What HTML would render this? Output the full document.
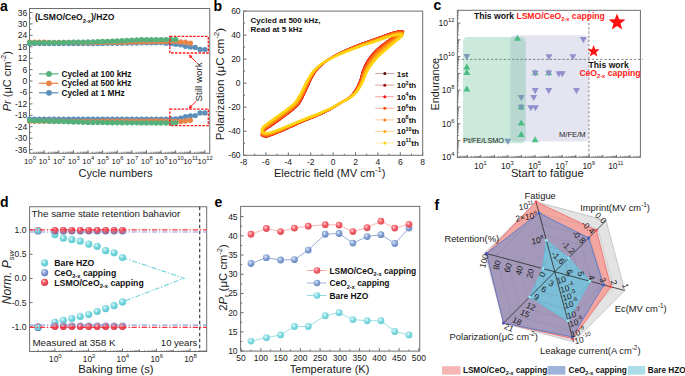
<!DOCTYPE html>
<html><head><meta charset="utf-8"><style>
html,body{margin:0;padding:0;background:#fff;}
svg{display:block;font-family:"Liberation Sans", sans-serif;}
</style></head><body>
<svg width="685" height="376" viewBox="0 0 685 376">
<defs><radialGradient id="gc" cx="0.38" cy="0.35" r="0.7"><stop offset="0" stop-color="#e6fafb"/><stop offset="0.45" stop-color="#78d8de"/><stop offset="1" stop-color="#58c6cc"/></radialGradient><radialGradient id="gb" cx="0.38" cy="0.35" r="0.7"><stop offset="0" stop-color="#e0e8f8"/><stop offset="0.45" stop-color="#8aa3d8"/><stop offset="1" stop-color="#6079b8"/></radialGradient><radialGradient id="gr" cx="0.38" cy="0.35" r="0.7"><stop offset="0" stop-color="#ffd0d4"/><stop offset="0.45" stop-color="#f0505c"/><stop offset="1" stop-color="#d83c4a"/></radialGradient><radialGradient id="ger" cx="0.38" cy="0.35" r="0.7"><stop offset="0" stop-color="#ffd8dc"/><stop offset="0.45" stop-color="#f5606a"/><stop offset="1" stop-color="#dc4a52"/></radialGradient><radialGradient id="geb" cx="0.38" cy="0.35" r="0.7"><stop offset="0" stop-color="#e6ecf8"/><stop offset="0.45" stop-color="#88a4d6"/><stop offset="1" stop-color="#6a88c0"/></radialGradient><radialGradient id="gec" cx="0.38" cy="0.35" r="0.7"><stop offset="0" stop-color="#eafbfc"/><stop offset="0.45" stop-color="#86dce2"/><stop offset="1" stop-color="#62cad2"/></radialGradient></defs>
<rect width="685" height="376" fill="#fff"/>
<text x="0.00" y="10.80" font-size="14" font-weight="bold" font-style="normal" text-anchor="start" fill="#000">a</text>
<line x1="29.50" y1="149.59" x2="32.50" y2="149.59" stroke="#6e6e6e" stroke-width="1"/>
<text x="27.20" y="152.59" font-size="8.5" font-weight="normal" font-style="normal" text-anchor="end" fill="#1a1a1a">-36</text>
<line x1="29.50" y1="138.16" x2="32.50" y2="138.16" stroke="#6e6e6e" stroke-width="1"/>
<text x="27.20" y="141.16" font-size="8.5" font-weight="normal" font-style="normal" text-anchor="end" fill="#1a1a1a">-30</text>
<line x1="29.50" y1="126.74" x2="32.50" y2="126.74" stroke="#6e6e6e" stroke-width="1"/>
<text x="27.20" y="129.74" font-size="8.5" font-weight="normal" font-style="normal" text-anchor="end" fill="#1a1a1a">-24</text>
<line x1="29.50" y1="115.32" x2="32.50" y2="115.32" stroke="#6e6e6e" stroke-width="1"/>
<text x="27.20" y="118.32" font-size="8.5" font-weight="normal" font-style="normal" text-anchor="end" fill="#1a1a1a">-18</text>
<line x1="29.50" y1="103.89" x2="32.50" y2="103.89" stroke="#6e6e6e" stroke-width="1"/>
<text x="27.20" y="106.89" font-size="8.5" font-weight="normal" font-style="normal" text-anchor="end" fill="#1a1a1a">-12</text>
<line x1="29.50" y1="92.47" x2="32.50" y2="92.47" stroke="#6e6e6e" stroke-width="1"/>
<text x="27.20" y="95.47" font-size="8.5" font-weight="normal" font-style="normal" text-anchor="end" fill="#1a1a1a">-6</text>
<line x1="29.50" y1="81.04" x2="32.50" y2="81.04" stroke="#6e6e6e" stroke-width="1"/>
<text x="27.20" y="84.04" font-size="8.5" font-weight="normal" font-style="normal" text-anchor="end" fill="#1a1a1a">0</text>
<line x1="29.50" y1="69.62" x2="32.50" y2="69.62" stroke="#6e6e6e" stroke-width="1"/>
<text x="27.20" y="72.62" font-size="8.5" font-weight="normal" font-style="normal" text-anchor="end" fill="#1a1a1a">6</text>
<line x1="29.50" y1="58.20" x2="32.50" y2="58.20" stroke="#6e6e6e" stroke-width="1"/>
<text x="27.20" y="61.20" font-size="8.5" font-weight="normal" font-style="normal" text-anchor="end" fill="#1a1a1a">12</text>
<line x1="29.50" y1="46.77" x2="32.50" y2="46.77" stroke="#6e6e6e" stroke-width="1"/>
<text x="27.20" y="49.77" font-size="8.5" font-weight="normal" font-style="normal" text-anchor="end" fill="#1a1a1a">18</text>
<line x1="29.50" y1="35.35" x2="32.50" y2="35.35" stroke="#6e6e6e" stroke-width="1"/>
<text x="27.20" y="38.35" font-size="8.5" font-weight="normal" font-style="normal" text-anchor="end" fill="#1a1a1a">24</text>
<line x1="29.50" y1="23.92" x2="32.50" y2="23.92" stroke="#6e6e6e" stroke-width="1"/>
<text x="27.20" y="26.92" font-size="8.5" font-weight="normal" font-style="normal" text-anchor="end" fill="#1a1a1a">30</text>
<line x1="29.50" y1="12.50" x2="32.50" y2="12.50" stroke="#6e6e6e" stroke-width="1"/>
<text x="27.20" y="15.50" font-size="8.5" font-weight="normal" font-style="normal" text-anchor="end" fill="#1a1a1a">36</text>
<line x1="29.50" y1="143.88" x2="31.10" y2="143.88" stroke="#6e6e6e" stroke-width="1"/>
<line x1="29.50" y1="132.45" x2="31.10" y2="132.45" stroke="#6e6e6e" stroke-width="1"/>
<line x1="29.50" y1="121.03" x2="31.10" y2="121.03" stroke="#6e6e6e" stroke-width="1"/>
<line x1="29.50" y1="109.60" x2="31.10" y2="109.60" stroke="#6e6e6e" stroke-width="1"/>
<line x1="29.50" y1="98.18" x2="31.10" y2="98.18" stroke="#6e6e6e" stroke-width="1"/>
<line x1="29.50" y1="86.76" x2="31.10" y2="86.76" stroke="#6e6e6e" stroke-width="1"/>
<line x1="29.50" y1="75.33" x2="31.10" y2="75.33" stroke="#6e6e6e" stroke-width="1"/>
<line x1="29.50" y1="63.91" x2="31.10" y2="63.91" stroke="#6e6e6e" stroke-width="1"/>
<line x1="29.50" y1="52.48" x2="31.10" y2="52.48" stroke="#6e6e6e" stroke-width="1"/>
<line x1="29.50" y1="41.06" x2="31.10" y2="41.06" stroke="#6e6e6e" stroke-width="1"/>
<line x1="29.50" y1="29.64" x2="31.10" y2="29.64" stroke="#6e6e6e" stroke-width="1"/>
<line x1="29.50" y1="18.21" x2="31.10" y2="18.21" stroke="#6e6e6e" stroke-width="1"/>
<line x1="29.60" y1="153.25" x2="29.60" y2="150.25" stroke="#6e6e6e" stroke-width="1"/>
<text x="29.90" y="164.00" font-size="7.9" text-anchor="middle" fill="#1a1a1a">10<tspan dy="-3.56" font-size="5.85">0</tspan></text>
<line x1="34.00" y1="153.25" x2="34.00" y2="151.65" stroke="#6e6e6e" stroke-width="0.8"/>
<line x1="36.57" y1="153.25" x2="36.57" y2="151.65" stroke="#6e6e6e" stroke-width="0.8"/>
<line x1="38.40" y1="153.25" x2="38.40" y2="151.65" stroke="#6e6e6e" stroke-width="0.8"/>
<line x1="39.81" y1="153.25" x2="39.81" y2="151.65" stroke="#6e6e6e" stroke-width="0.8"/>
<line x1="40.97" y1="153.25" x2="40.97" y2="151.65" stroke="#6e6e6e" stroke-width="0.8"/>
<line x1="41.95" y1="153.25" x2="41.95" y2="151.65" stroke="#6e6e6e" stroke-width="0.8"/>
<line x1="42.79" y1="153.25" x2="42.79" y2="151.65" stroke="#6e6e6e" stroke-width="0.8"/>
<line x1="43.54" y1="153.25" x2="43.54" y2="151.65" stroke="#6e6e6e" stroke-width="0.8"/>
<line x1="44.21" y1="153.25" x2="44.21" y2="150.25" stroke="#6e6e6e" stroke-width="1"/>
<text x="44.51" y="164.00" font-size="7.9" text-anchor="middle" fill="#1a1a1a">10<tspan dy="-3.56" font-size="5.85">1</tspan></text>
<line x1="48.61" y1="153.25" x2="48.61" y2="151.65" stroke="#6e6e6e" stroke-width="0.8"/>
<line x1="51.18" y1="153.25" x2="51.18" y2="151.65" stroke="#6e6e6e" stroke-width="0.8"/>
<line x1="53.01" y1="153.25" x2="53.01" y2="151.65" stroke="#6e6e6e" stroke-width="0.8"/>
<line x1="54.42" y1="153.25" x2="54.42" y2="151.65" stroke="#6e6e6e" stroke-width="0.8"/>
<line x1="55.58" y1="153.25" x2="55.58" y2="151.65" stroke="#6e6e6e" stroke-width="0.8"/>
<line x1="56.56" y1="153.25" x2="56.56" y2="151.65" stroke="#6e6e6e" stroke-width="0.8"/>
<line x1="57.40" y1="153.25" x2="57.40" y2="151.65" stroke="#6e6e6e" stroke-width="0.8"/>
<line x1="58.15" y1="153.25" x2="58.15" y2="151.65" stroke="#6e6e6e" stroke-width="0.8"/>
<line x1="58.82" y1="153.25" x2="58.82" y2="150.25" stroke="#6e6e6e" stroke-width="1"/>
<text x="59.12" y="164.00" font-size="7.9" text-anchor="middle" fill="#1a1a1a">10<tspan dy="-3.56" font-size="5.85">2</tspan></text>
<line x1="63.22" y1="153.25" x2="63.22" y2="151.65" stroke="#6e6e6e" stroke-width="0.8"/>
<line x1="65.79" y1="153.25" x2="65.79" y2="151.65" stroke="#6e6e6e" stroke-width="0.8"/>
<line x1="67.62" y1="153.25" x2="67.62" y2="151.65" stroke="#6e6e6e" stroke-width="0.8"/>
<line x1="69.03" y1="153.25" x2="69.03" y2="151.65" stroke="#6e6e6e" stroke-width="0.8"/>
<line x1="70.19" y1="153.25" x2="70.19" y2="151.65" stroke="#6e6e6e" stroke-width="0.8"/>
<line x1="71.17" y1="153.25" x2="71.17" y2="151.65" stroke="#6e6e6e" stroke-width="0.8"/>
<line x1="72.01" y1="153.25" x2="72.01" y2="151.65" stroke="#6e6e6e" stroke-width="0.8"/>
<line x1="72.76" y1="153.25" x2="72.76" y2="151.65" stroke="#6e6e6e" stroke-width="0.8"/>
<line x1="73.43" y1="153.25" x2="73.43" y2="150.25" stroke="#6e6e6e" stroke-width="1"/>
<text x="73.73" y="164.00" font-size="7.9" text-anchor="middle" fill="#1a1a1a">10<tspan dy="-3.56" font-size="5.85">3</tspan></text>
<line x1="77.83" y1="153.25" x2="77.83" y2="151.65" stroke="#6e6e6e" stroke-width="0.8"/>
<line x1="80.40" y1="153.25" x2="80.40" y2="151.65" stroke="#6e6e6e" stroke-width="0.8"/>
<line x1="82.23" y1="153.25" x2="82.23" y2="151.65" stroke="#6e6e6e" stroke-width="0.8"/>
<line x1="83.64" y1="153.25" x2="83.64" y2="151.65" stroke="#6e6e6e" stroke-width="0.8"/>
<line x1="84.80" y1="153.25" x2="84.80" y2="151.65" stroke="#6e6e6e" stroke-width="0.8"/>
<line x1="85.78" y1="153.25" x2="85.78" y2="151.65" stroke="#6e6e6e" stroke-width="0.8"/>
<line x1="86.62" y1="153.25" x2="86.62" y2="151.65" stroke="#6e6e6e" stroke-width="0.8"/>
<line x1="87.37" y1="153.25" x2="87.37" y2="151.65" stroke="#6e6e6e" stroke-width="0.8"/>
<line x1="88.04" y1="153.25" x2="88.04" y2="150.25" stroke="#6e6e6e" stroke-width="1"/>
<text x="88.34" y="164.00" font-size="7.9" text-anchor="middle" fill="#1a1a1a">10<tspan dy="-3.56" font-size="5.85">4</tspan></text>
<line x1="92.44" y1="153.25" x2="92.44" y2="151.65" stroke="#6e6e6e" stroke-width="0.8"/>
<line x1="95.01" y1="153.25" x2="95.01" y2="151.65" stroke="#6e6e6e" stroke-width="0.8"/>
<line x1="96.84" y1="153.25" x2="96.84" y2="151.65" stroke="#6e6e6e" stroke-width="0.8"/>
<line x1="98.25" y1="153.25" x2="98.25" y2="151.65" stroke="#6e6e6e" stroke-width="0.8"/>
<line x1="99.41" y1="153.25" x2="99.41" y2="151.65" stroke="#6e6e6e" stroke-width="0.8"/>
<line x1="100.39" y1="153.25" x2="100.39" y2="151.65" stroke="#6e6e6e" stroke-width="0.8"/>
<line x1="101.23" y1="153.25" x2="101.23" y2="151.65" stroke="#6e6e6e" stroke-width="0.8"/>
<line x1="101.98" y1="153.25" x2="101.98" y2="151.65" stroke="#6e6e6e" stroke-width="0.8"/>
<line x1="102.65" y1="153.25" x2="102.65" y2="150.25" stroke="#6e6e6e" stroke-width="1"/>
<text x="102.95" y="164.00" font-size="7.9" text-anchor="middle" fill="#1a1a1a">10<tspan dy="-3.56" font-size="5.85">5</tspan></text>
<line x1="107.05" y1="153.25" x2="107.05" y2="151.65" stroke="#6e6e6e" stroke-width="0.8"/>
<line x1="109.62" y1="153.25" x2="109.62" y2="151.65" stroke="#6e6e6e" stroke-width="0.8"/>
<line x1="111.45" y1="153.25" x2="111.45" y2="151.65" stroke="#6e6e6e" stroke-width="0.8"/>
<line x1="112.86" y1="153.25" x2="112.86" y2="151.65" stroke="#6e6e6e" stroke-width="0.8"/>
<line x1="114.02" y1="153.25" x2="114.02" y2="151.65" stroke="#6e6e6e" stroke-width="0.8"/>
<line x1="115.00" y1="153.25" x2="115.00" y2="151.65" stroke="#6e6e6e" stroke-width="0.8"/>
<line x1="115.84" y1="153.25" x2="115.84" y2="151.65" stroke="#6e6e6e" stroke-width="0.8"/>
<line x1="116.59" y1="153.25" x2="116.59" y2="151.65" stroke="#6e6e6e" stroke-width="0.8"/>
<line x1="117.26" y1="153.25" x2="117.26" y2="150.25" stroke="#6e6e6e" stroke-width="1"/>
<text x="117.56" y="164.00" font-size="7.9" text-anchor="middle" fill="#1a1a1a">10<tspan dy="-3.56" font-size="5.85">6</tspan></text>
<line x1="121.66" y1="153.25" x2="121.66" y2="151.65" stroke="#6e6e6e" stroke-width="0.8"/>
<line x1="124.23" y1="153.25" x2="124.23" y2="151.65" stroke="#6e6e6e" stroke-width="0.8"/>
<line x1="126.06" y1="153.25" x2="126.06" y2="151.65" stroke="#6e6e6e" stroke-width="0.8"/>
<line x1="127.47" y1="153.25" x2="127.47" y2="151.65" stroke="#6e6e6e" stroke-width="0.8"/>
<line x1="128.63" y1="153.25" x2="128.63" y2="151.65" stroke="#6e6e6e" stroke-width="0.8"/>
<line x1="129.61" y1="153.25" x2="129.61" y2="151.65" stroke="#6e6e6e" stroke-width="0.8"/>
<line x1="130.45" y1="153.25" x2="130.45" y2="151.65" stroke="#6e6e6e" stroke-width="0.8"/>
<line x1="131.20" y1="153.25" x2="131.20" y2="151.65" stroke="#6e6e6e" stroke-width="0.8"/>
<line x1="131.87" y1="153.25" x2="131.87" y2="150.25" stroke="#6e6e6e" stroke-width="1"/>
<text x="132.17" y="164.00" font-size="7.9" text-anchor="middle" fill="#1a1a1a">10<tspan dy="-3.56" font-size="5.85">7</tspan></text>
<line x1="136.27" y1="153.25" x2="136.27" y2="151.65" stroke="#6e6e6e" stroke-width="0.8"/>
<line x1="138.84" y1="153.25" x2="138.84" y2="151.65" stroke="#6e6e6e" stroke-width="0.8"/>
<line x1="140.67" y1="153.25" x2="140.67" y2="151.65" stroke="#6e6e6e" stroke-width="0.8"/>
<line x1="142.08" y1="153.25" x2="142.08" y2="151.65" stroke="#6e6e6e" stroke-width="0.8"/>
<line x1="143.24" y1="153.25" x2="143.24" y2="151.65" stroke="#6e6e6e" stroke-width="0.8"/>
<line x1="144.22" y1="153.25" x2="144.22" y2="151.65" stroke="#6e6e6e" stroke-width="0.8"/>
<line x1="145.06" y1="153.25" x2="145.06" y2="151.65" stroke="#6e6e6e" stroke-width="0.8"/>
<line x1="145.81" y1="153.25" x2="145.81" y2="151.65" stroke="#6e6e6e" stroke-width="0.8"/>
<line x1="146.48" y1="153.25" x2="146.48" y2="150.25" stroke="#6e6e6e" stroke-width="1"/>
<text x="146.78" y="164.00" font-size="7.9" text-anchor="middle" fill="#1a1a1a">10<tspan dy="-3.56" font-size="5.85">8</tspan></text>
<line x1="150.88" y1="153.25" x2="150.88" y2="151.65" stroke="#6e6e6e" stroke-width="0.8"/>
<line x1="153.45" y1="153.25" x2="153.45" y2="151.65" stroke="#6e6e6e" stroke-width="0.8"/>
<line x1="155.28" y1="153.25" x2="155.28" y2="151.65" stroke="#6e6e6e" stroke-width="0.8"/>
<line x1="156.69" y1="153.25" x2="156.69" y2="151.65" stroke="#6e6e6e" stroke-width="0.8"/>
<line x1="157.85" y1="153.25" x2="157.85" y2="151.65" stroke="#6e6e6e" stroke-width="0.8"/>
<line x1="158.83" y1="153.25" x2="158.83" y2="151.65" stroke="#6e6e6e" stroke-width="0.8"/>
<line x1="159.67" y1="153.25" x2="159.67" y2="151.65" stroke="#6e6e6e" stroke-width="0.8"/>
<line x1="160.42" y1="153.25" x2="160.42" y2="151.65" stroke="#6e6e6e" stroke-width="0.8"/>
<line x1="161.09" y1="153.25" x2="161.09" y2="150.25" stroke="#6e6e6e" stroke-width="1"/>
<text x="161.39" y="164.00" font-size="7.9" text-anchor="middle" fill="#1a1a1a">10<tspan dy="-3.56" font-size="5.85">9</tspan></text>
<line x1="165.49" y1="153.25" x2="165.49" y2="151.65" stroke="#6e6e6e" stroke-width="0.8"/>
<line x1="168.06" y1="153.25" x2="168.06" y2="151.65" stroke="#6e6e6e" stroke-width="0.8"/>
<line x1="169.89" y1="153.25" x2="169.89" y2="151.65" stroke="#6e6e6e" stroke-width="0.8"/>
<line x1="171.30" y1="153.25" x2="171.30" y2="151.65" stroke="#6e6e6e" stroke-width="0.8"/>
<line x1="172.46" y1="153.25" x2="172.46" y2="151.65" stroke="#6e6e6e" stroke-width="0.8"/>
<line x1="173.44" y1="153.25" x2="173.44" y2="151.65" stroke="#6e6e6e" stroke-width="0.8"/>
<line x1="174.28" y1="153.25" x2="174.28" y2="151.65" stroke="#6e6e6e" stroke-width="0.8"/>
<line x1="175.03" y1="153.25" x2="175.03" y2="151.65" stroke="#6e6e6e" stroke-width="0.8"/>
<line x1="175.70" y1="153.25" x2="175.70" y2="150.25" stroke="#6e6e6e" stroke-width="1"/>
<text x="176.00" y="164.00" font-size="7.9" text-anchor="middle" fill="#1a1a1a">10<tspan dy="-3.56" font-size="5.85">10</tspan></text>
<line x1="180.10" y1="153.25" x2="180.10" y2="151.65" stroke="#6e6e6e" stroke-width="0.8"/>
<line x1="182.67" y1="153.25" x2="182.67" y2="151.65" stroke="#6e6e6e" stroke-width="0.8"/>
<line x1="184.50" y1="153.25" x2="184.50" y2="151.65" stroke="#6e6e6e" stroke-width="0.8"/>
<line x1="185.91" y1="153.25" x2="185.91" y2="151.65" stroke="#6e6e6e" stroke-width="0.8"/>
<line x1="187.07" y1="153.25" x2="187.07" y2="151.65" stroke="#6e6e6e" stroke-width="0.8"/>
<line x1="188.05" y1="153.25" x2="188.05" y2="151.65" stroke="#6e6e6e" stroke-width="0.8"/>
<line x1="188.89" y1="153.25" x2="188.89" y2="151.65" stroke="#6e6e6e" stroke-width="0.8"/>
<line x1="189.64" y1="153.25" x2="189.64" y2="151.65" stroke="#6e6e6e" stroke-width="0.8"/>
<line x1="190.31" y1="153.25" x2="190.31" y2="150.25" stroke="#6e6e6e" stroke-width="1"/>
<text x="190.61" y="164.00" font-size="7.9" text-anchor="middle" fill="#1a1a1a">10<tspan dy="-3.56" font-size="5.85">11</tspan></text>
<line x1="194.71" y1="153.25" x2="194.71" y2="151.65" stroke="#6e6e6e" stroke-width="0.8"/>
<line x1="197.28" y1="153.25" x2="197.28" y2="151.65" stroke="#6e6e6e" stroke-width="0.8"/>
<line x1="199.11" y1="153.25" x2="199.11" y2="151.65" stroke="#6e6e6e" stroke-width="0.8"/>
<line x1="200.52" y1="153.25" x2="200.52" y2="151.65" stroke="#6e6e6e" stroke-width="0.8"/>
<line x1="201.68" y1="153.25" x2="201.68" y2="151.65" stroke="#6e6e6e" stroke-width="0.8"/>
<line x1="202.66" y1="153.25" x2="202.66" y2="151.65" stroke="#6e6e6e" stroke-width="0.8"/>
<line x1="203.50" y1="153.25" x2="203.50" y2="151.65" stroke="#6e6e6e" stroke-width="0.8"/>
<line x1="204.25" y1="153.25" x2="204.25" y2="151.65" stroke="#6e6e6e" stroke-width="0.8"/>
<line x1="204.92" y1="153.25" x2="204.92" y2="150.25" stroke="#6e6e6e" stroke-width="1"/>
<text x="205.22" y="164.00" font-size="7.9" text-anchor="middle" fill="#1a1a1a">10<tspan dy="-3.56" font-size="5.85">12</tspan></text>
<rect x="29.50" y="8.50" width="180.25" height="144.75" fill="none" stroke="#6e6e6e" stroke-width="1"/>
<text x="35" y="20.4" font-size="8.6" font-weight="bold" fill="#111">(LSMO/CeO<tspan dy="2.15" font-size="5.68">2-x</tspan><tspan dy="-2.15" font-size="8.6">&#8203;</tspan>)/HZO</text>
<circle cx="29.60" cy="43.40" r="2.7" fill="#5a8fba"/><circle cx="29.60" cy="119.20" r="2.7" fill="#5a8fba"/><circle cx="34.47" cy="43.42" r="2.7" fill="#5a8fba"/><circle cx="34.47" cy="119.21" r="2.7" fill="#5a8fba"/><circle cx="39.34" cy="43.43" r="2.7" fill="#5a8fba"/><circle cx="39.34" cy="119.22" r="2.7" fill="#5a8fba"/><circle cx="44.21" cy="43.45" r="2.7" fill="#5a8fba"/><circle cx="44.21" cy="119.22" r="2.7" fill="#5a8fba"/><circle cx="49.08" cy="43.47" r="2.7" fill="#5a8fba"/><circle cx="49.08" cy="119.23" r="2.7" fill="#5a8fba"/><circle cx="53.95" cy="43.48" r="2.7" fill="#5a8fba"/><circle cx="53.95" cy="119.24" r="2.7" fill="#5a8fba"/><circle cx="58.82" cy="43.50" r="2.7" fill="#5a8fba"/><circle cx="58.82" cy="119.25" r="2.7" fill="#5a8fba"/><circle cx="63.69" cy="43.52" r="2.7" fill="#5a8fba"/><circle cx="63.69" cy="119.26" r="2.7" fill="#5a8fba"/><circle cx="68.56" cy="43.53" r="2.7" fill="#5a8fba"/><circle cx="68.56" cy="119.27" r="2.7" fill="#5a8fba"/><circle cx="73.43" cy="43.55" r="2.7" fill="#5a8fba"/><circle cx="73.43" cy="119.28" r="2.7" fill="#5a8fba"/><circle cx="78.30" cy="43.57" r="2.7" fill="#5a8fba"/><circle cx="78.30" cy="119.28" r="2.7" fill="#5a8fba"/><circle cx="83.17" cy="43.58" r="2.7" fill="#5a8fba"/><circle cx="83.17" cy="119.29" r="2.7" fill="#5a8fba"/><circle cx="88.04" cy="43.60" r="2.7" fill="#5a8fba"/><circle cx="88.04" cy="119.30" r="2.7" fill="#5a8fba"/><circle cx="92.91" cy="43.53" r="2.7" fill="#5a8fba"/><circle cx="92.91" cy="119.29" r="2.7" fill="#5a8fba"/><circle cx="97.78" cy="43.47" r="2.7" fill="#5a8fba"/><circle cx="97.78" cy="119.29" r="2.7" fill="#5a8fba"/><circle cx="102.65" cy="43.40" r="2.7" fill="#5a8fba"/><circle cx="102.65" cy="119.28" r="2.7" fill="#5a8fba"/><circle cx="107.52" cy="43.33" r="2.7" fill="#5a8fba"/><circle cx="107.52" cy="119.27" r="2.7" fill="#5a8fba"/><circle cx="112.39" cy="43.27" r="2.7" fill="#5a8fba"/><circle cx="112.39" cy="119.27" r="2.7" fill="#5a8fba"/><circle cx="117.26" cy="43.20" r="2.7" fill="#5a8fba"/><circle cx="117.26" cy="119.26" r="2.7" fill="#5a8fba"/><circle cx="122.13" cy="43.13" r="2.7" fill="#5a8fba"/><circle cx="122.13" cy="119.25" r="2.7" fill="#5a8fba"/><circle cx="127.00" cy="43.07" r="2.7" fill="#5a8fba"/><circle cx="127.00" cy="119.25" r="2.7" fill="#5a8fba"/><circle cx="131.87" cy="43.00" r="2.7" fill="#5a8fba"/><circle cx="131.87" cy="119.24" r="2.7" fill="#5a8fba"/><circle cx="136.74" cy="42.93" r="2.7" fill="#5a8fba"/><circle cx="136.74" cy="119.23" r="2.7" fill="#5a8fba"/><circle cx="141.61" cy="42.87" r="2.7" fill="#5a8fba"/><circle cx="141.61" cy="119.23" r="2.7" fill="#5a8fba"/><circle cx="146.48" cy="42.80" r="2.7" fill="#5a8fba"/><circle cx="146.48" cy="119.22" r="2.7" fill="#5a8fba"/><circle cx="151.35" cy="42.73" r="2.7" fill="#5a8fba"/><circle cx="151.35" cy="119.21" r="2.7" fill="#5a8fba"/><circle cx="156.22" cy="42.67" r="2.7" fill="#5a8fba"/><circle cx="156.22" cy="119.21" r="2.7" fill="#5a8fba"/><circle cx="161.09" cy="42.60" r="2.7" fill="#5a8fba"/><circle cx="161.09" cy="119.20" r="2.7" fill="#5a8fba"/><circle cx="165.96" cy="43.13" r="2.7" fill="#5a8fba"/><circle cx="165.96" cy="119.10" r="2.7" fill="#5a8fba"/><circle cx="170.83" cy="43.67" r="2.7" fill="#5a8fba"/><circle cx="170.83" cy="119.00" r="2.7" fill="#5a8fba"/><circle cx="175.70" cy="44.20" r="2.7" fill="#5a8fba"/><circle cx="175.70" cy="118.90" r="2.7" fill="#5a8fba"/><circle cx="180.57" cy="44.75" r="2.7" fill="#5a8fba"/><circle cx="180.57" cy="118.16" r="2.7" fill="#5a8fba"/><circle cx="185.44" cy="46.25" r="2.7" fill="#5a8fba"/><circle cx="185.44" cy="116.74" r="2.7" fill="#5a8fba"/><circle cx="190.31" cy="46.90" r="2.7" fill="#5a8fba"/><circle cx="190.31" cy="116.00" r="2.7" fill="#5a8fba"/><circle cx="195.18" cy="47.40" r="2.7" fill="#5a8fba"/><circle cx="195.18" cy="115.62" r="2.7" fill="#5a8fba"/><circle cx="200.05" cy="49.40" r="2.7" fill="#5a8fba"/><circle cx="200.05" cy="112.88" r="2.7" fill="#5a8fba"/><circle cx="204.92" cy="49.60" r="2.7" fill="#5a8fba"/><circle cx="204.92" cy="112.90" r="2.7" fill="#5a8fba"/>
<circle cx="29.60" cy="42.20" r="2.7" fill="#e8844a"/><circle cx="29.60" cy="121.20" r="2.7" fill="#e8844a"/><circle cx="34.47" cy="42.23" r="2.7" fill="#e8844a"/><circle cx="34.47" cy="121.22" r="2.7" fill="#e8844a"/><circle cx="39.34" cy="42.27" r="2.7" fill="#e8844a"/><circle cx="39.34" cy="121.23" r="2.7" fill="#e8844a"/><circle cx="44.21" cy="42.30" r="2.7" fill="#e8844a"/><circle cx="44.21" cy="121.25" r="2.7" fill="#e8844a"/><circle cx="49.08" cy="42.33" r="2.7" fill="#e8844a"/><circle cx="49.08" cy="121.27" r="2.7" fill="#e8844a"/><circle cx="53.95" cy="42.37" r="2.7" fill="#e8844a"/><circle cx="53.95" cy="121.28" r="2.7" fill="#e8844a"/><circle cx="58.82" cy="42.40" r="2.7" fill="#e8844a"/><circle cx="58.82" cy="121.30" r="2.7" fill="#e8844a"/><circle cx="63.69" cy="42.43" r="2.7" fill="#e8844a"/><circle cx="63.69" cy="121.32" r="2.7" fill="#e8844a"/><circle cx="68.56" cy="42.47" r="2.7" fill="#e8844a"/><circle cx="68.56" cy="121.33" r="2.7" fill="#e8844a"/><circle cx="73.43" cy="42.50" r="2.7" fill="#e8844a"/><circle cx="73.43" cy="121.35" r="2.7" fill="#e8844a"/><circle cx="78.30" cy="42.53" r="2.7" fill="#e8844a"/><circle cx="78.30" cy="121.37" r="2.7" fill="#e8844a"/><circle cx="83.17" cy="42.57" r="2.7" fill="#e8844a"/><circle cx="83.17" cy="121.38" r="2.7" fill="#e8844a"/><circle cx="88.04" cy="42.60" r="2.7" fill="#e8844a"/><circle cx="88.04" cy="121.40" r="2.7" fill="#e8844a"/><circle cx="92.91" cy="42.53" r="2.7" fill="#e8844a"/><circle cx="92.91" cy="121.37" r="2.7" fill="#e8844a"/><circle cx="97.78" cy="42.47" r="2.7" fill="#e8844a"/><circle cx="97.78" cy="121.35" r="2.7" fill="#e8844a"/><circle cx="102.65" cy="42.40" r="2.7" fill="#e8844a"/><circle cx="102.65" cy="121.32" r="2.7" fill="#e8844a"/><circle cx="107.52" cy="42.33" r="2.7" fill="#e8844a"/><circle cx="107.52" cy="121.29" r="2.7" fill="#e8844a"/><circle cx="112.39" cy="42.27" r="2.7" fill="#e8844a"/><circle cx="112.39" cy="121.27" r="2.7" fill="#e8844a"/><circle cx="117.26" cy="42.20" r="2.7" fill="#e8844a"/><circle cx="117.26" cy="121.24" r="2.7" fill="#e8844a"/><circle cx="122.13" cy="42.13" r="2.7" fill="#e8844a"/><circle cx="122.13" cy="121.21" r="2.7" fill="#e8844a"/><circle cx="127.00" cy="42.07" r="2.7" fill="#e8844a"/><circle cx="127.00" cy="121.19" r="2.7" fill="#e8844a"/><circle cx="131.87" cy="42.00" r="2.7" fill="#e8844a"/><circle cx="131.87" cy="121.16" r="2.7" fill="#e8844a"/><circle cx="136.74" cy="41.92" r="2.7" fill="#e8844a"/><circle cx="136.74" cy="121.13" r="2.7" fill="#e8844a"/><circle cx="141.61" cy="41.83" r="2.7" fill="#e8844a"/><circle cx="141.61" cy="121.11" r="2.7" fill="#e8844a"/><circle cx="146.48" cy="41.75" r="2.7" fill="#e8844a"/><circle cx="146.48" cy="121.08" r="2.7" fill="#e8844a"/><circle cx="151.35" cy="41.67" r="2.7" fill="#e8844a"/><circle cx="151.35" cy="121.05" r="2.7" fill="#e8844a"/><circle cx="156.22" cy="41.58" r="2.7" fill="#e8844a"/><circle cx="156.22" cy="121.03" r="2.7" fill="#e8844a"/><circle cx="161.09" cy="41.50" r="2.7" fill="#e8844a"/><circle cx="161.09" cy="121.00" r="2.7" fill="#e8844a"/><circle cx="165.96" cy="41.47" r="2.7" fill="#e8844a"/><circle cx="165.96" cy="121.13" r="2.7" fill="#e8844a"/><circle cx="170.83" cy="41.43" r="2.7" fill="#e8844a"/><circle cx="170.83" cy="121.27" r="2.7" fill="#e8844a"/><circle cx="175.70" cy="41.40" r="2.7" fill="#e8844a"/><circle cx="175.70" cy="121.40" r="2.7" fill="#e8844a"/><circle cx="180.57" cy="41.93" r="2.7" fill="#e8844a"/><circle cx="180.57" cy="121.46" r="2.7" fill="#e8844a"/><circle cx="185.44" cy="42.27" r="2.7" fill="#e8844a"/><circle cx="185.44" cy="121.04" r="2.7" fill="#e8844a"/><circle cx="190.31" cy="43.20" r="2.7" fill="#e8844a"/><circle cx="190.31" cy="120.30" r="2.7" fill="#e8844a"/>
<circle cx="29.60" cy="42.80" r="2.7" fill="#55b07c"/><circle cx="29.60" cy="120.60" r="2.7" fill="#55b07c"/><circle cx="34.47" cy="42.77" r="2.7" fill="#55b07c"/><circle cx="34.47" cy="120.73" r="2.7" fill="#55b07c"/><circle cx="39.34" cy="42.73" r="2.7" fill="#55b07c"/><circle cx="39.34" cy="120.87" r="2.7" fill="#55b07c"/><circle cx="44.21" cy="42.70" r="2.7" fill="#55b07c"/><circle cx="44.21" cy="121.00" r="2.7" fill="#55b07c"/><circle cx="49.08" cy="42.67" r="2.7" fill="#55b07c"/><circle cx="49.08" cy="121.13" r="2.7" fill="#55b07c"/><circle cx="53.95" cy="42.63" r="2.7" fill="#55b07c"/><circle cx="53.95" cy="121.27" r="2.7" fill="#55b07c"/><circle cx="58.82" cy="42.60" r="2.7" fill="#55b07c"/><circle cx="58.82" cy="121.40" r="2.7" fill="#55b07c"/><circle cx="63.69" cy="42.50" r="2.7" fill="#55b07c"/><circle cx="63.69" cy="121.57" r="2.7" fill="#55b07c"/><circle cx="68.56" cy="42.40" r="2.7" fill="#55b07c"/><circle cx="68.56" cy="121.73" r="2.7" fill="#55b07c"/><circle cx="73.43" cy="42.30" r="2.7" fill="#55b07c"/><circle cx="73.43" cy="121.90" r="2.7" fill="#55b07c"/><circle cx="78.30" cy="42.20" r="2.7" fill="#55b07c"/><circle cx="78.30" cy="122.07" r="2.7" fill="#55b07c"/><circle cx="83.17" cy="42.10" r="2.7" fill="#55b07c"/><circle cx="83.17" cy="122.23" r="2.7" fill="#55b07c"/><circle cx="88.04" cy="42.00" r="2.7" fill="#55b07c"/><circle cx="88.04" cy="122.40" r="2.7" fill="#55b07c"/><circle cx="92.91" cy="41.83" r="2.7" fill="#55b07c"/><circle cx="92.91" cy="122.47" r="2.7" fill="#55b07c"/><circle cx="97.78" cy="41.67" r="2.7" fill="#55b07c"/><circle cx="97.78" cy="122.53" r="2.7" fill="#55b07c"/><circle cx="102.65" cy="41.50" r="2.7" fill="#55b07c"/><circle cx="102.65" cy="122.60" r="2.7" fill="#55b07c"/><circle cx="107.52" cy="41.33" r="2.7" fill="#55b07c"/><circle cx="107.52" cy="122.67" r="2.7" fill="#55b07c"/><circle cx="112.39" cy="41.17" r="2.7" fill="#55b07c"/><circle cx="112.39" cy="122.73" r="2.7" fill="#55b07c"/><circle cx="117.26" cy="41.00" r="2.7" fill="#55b07c"/><circle cx="117.26" cy="122.80" r="2.7" fill="#55b07c"/><circle cx="122.13" cy="40.73" r="2.7" fill="#55b07c"/><circle cx="122.13" cy="122.82" r="2.7" fill="#55b07c"/><circle cx="127.00" cy="40.47" r="2.7" fill="#55b07c"/><circle cx="127.00" cy="122.83" r="2.7" fill="#55b07c"/><circle cx="131.87" cy="40.20" r="2.7" fill="#55b07c"/><circle cx="131.87" cy="122.85" r="2.7" fill="#55b07c"/><circle cx="136.74" cy="39.93" r="2.7" fill="#55b07c"/><circle cx="136.74" cy="122.87" r="2.7" fill="#55b07c"/><circle cx="141.61" cy="39.78" r="2.7" fill="#55b07c"/><circle cx="141.61" cy="122.88" r="2.7" fill="#55b07c"/><circle cx="146.48" cy="39.74" r="2.7" fill="#55b07c"/><circle cx="146.48" cy="122.90" r="2.7" fill="#55b07c"/><circle cx="151.35" cy="39.70" r="2.7" fill="#55b07c"/><circle cx="151.35" cy="122.92" r="2.7" fill="#55b07c"/><circle cx="156.22" cy="39.66" r="2.7" fill="#55b07c"/><circle cx="156.22" cy="122.93" r="2.7" fill="#55b07c"/><circle cx="161.09" cy="39.62" r="2.7" fill="#55b07c"/><circle cx="161.09" cy="122.95" r="2.7" fill="#55b07c"/><circle cx="165.96" cy="39.58" r="2.7" fill="#55b07c"/><circle cx="165.96" cy="122.97" r="2.7" fill="#55b07c"/><circle cx="170.83" cy="39.54" r="2.7" fill="#55b07c"/><circle cx="170.83" cy="122.98" r="2.7" fill="#55b07c"/><circle cx="175.70" cy="39.50" r="2.7" fill="#55b07c"/><circle cx="175.70" cy="123.00" r="2.7" fill="#55b07c"/>
<rect x="169.8" y="36.4" width="38.5" height="16.6" fill="none" stroke="#ff1a1a" stroke-width="1.3" stroke-dasharray="2.6,1.3"/>
<rect x="169.8" y="109.1" width="38.5" height="16.6" fill="none" stroke="#ff1a1a" stroke-width="1.3" stroke-dasharray="2.6,1.3"/>
<line x1="196.40" y1="62.40" x2="190.20" y2="56.20" stroke="#ff2020" stroke-width="1"/>
<polygon points="188.6,54.6 192.6,56.0 190.0,58.6" fill="#ff2020"/>
<line x1="196.40" y1="101.00" x2="190.20" y2="107.20" stroke="#ff2020" stroke-width="1"/>
<polygon points="188.6,108.8 192.6,107.4 190.0,104.8" fill="#ff2020"/>
<text x="201.80" y="82.00" font-size="9.8" font-weight="normal" font-style="normal" text-anchor="middle" fill="#1a1a1a" transform="rotate(-90 201.80 82.00)">Still work</text>
<line x1="39.00" y1="73.90" x2="58.50" y2="73.90" stroke="#55b07c" stroke-width="1.2"/>
<circle cx="49" cy="73.90" r="2.9" fill="#55b07c"/>
<text x="61.40" y="76.90" font-size="8.3" font-weight="bold" font-style="normal" text-anchor="start" fill="#111">Cycled at 100 kHz</text>
<line x1="39.00" y1="83.35" x2="58.50" y2="83.35" stroke="#e8844a" stroke-width="1.2"/>
<circle cx="49" cy="83.35" r="2.9" fill="#e8844a"/>
<text x="61.40" y="86.35" font-size="8.3" font-weight="bold" font-style="normal" text-anchor="start" fill="#111">Cycled at 500 kHz</text>
<line x1="39.00" y1="92.80" x2="58.50" y2="92.80" stroke="#5a8fba" stroke-width="1.2"/>
<circle cx="49" cy="92.80" r="2.9" fill="#5a8fba"/>
<text x="61.40" y="95.80" font-size="8.3" font-weight="bold" font-style="normal" text-anchor="start" fill="#111">Cycled at 1 MHz</text>
<text x="10.6" y="81.2" font-size="11" text-anchor="middle" fill="#1a1a1a" transform="rotate(-90 10.6 81.2)"><tspan font-style="italic">Pr</tspan> (μC cm<tspan dy="-4.95" font-size="7.48">-2</tspan><tspan dy="4.95" font-size="11">&#8203;</tspan>)</text>
<text x="115.50" y="177.00" font-size="11.1" font-weight="normal" font-style="normal" text-anchor="middle" fill="#1a1a1a">Cycle numbers</text>
<text x="213.50" y="10.60" font-size="14" font-weight="bold" font-style="normal" text-anchor="start" fill="#000">b</text>
<line x1="243.50" y1="155.30" x2="246.50" y2="155.30" stroke="#6e6e6e" stroke-width="1"/>
<text x="240.60" y="158.30" font-size="8.5" font-weight="normal" font-style="normal" text-anchor="end" fill="#1a1a1a">-60</text>
<line x1="243.50" y1="131.27" x2="246.50" y2="131.27" stroke="#6e6e6e" stroke-width="1"/>
<text x="240.60" y="134.27" font-size="8.5" font-weight="normal" font-style="normal" text-anchor="end" fill="#1a1a1a">-40</text>
<line x1="243.50" y1="107.24" x2="246.50" y2="107.24" stroke="#6e6e6e" stroke-width="1"/>
<text x="240.60" y="110.24" font-size="8.5" font-weight="normal" font-style="normal" text-anchor="end" fill="#1a1a1a">-20</text>
<line x1="243.50" y1="83.20" x2="246.50" y2="83.20" stroke="#6e6e6e" stroke-width="1"/>
<text x="240.60" y="86.20" font-size="8.5" font-weight="normal" font-style="normal" text-anchor="end" fill="#1a1a1a">0</text>
<line x1="243.50" y1="59.17" x2="246.50" y2="59.17" stroke="#6e6e6e" stroke-width="1"/>
<text x="240.60" y="62.17" font-size="8.5" font-weight="normal" font-style="normal" text-anchor="end" fill="#1a1a1a">20</text>
<line x1="243.50" y1="35.13" x2="246.50" y2="35.13" stroke="#6e6e6e" stroke-width="1"/>
<text x="240.60" y="38.13" font-size="8.5" font-weight="normal" font-style="normal" text-anchor="end" fill="#1a1a1a">40</text>
<line x1="243.50" y1="11.10" x2="246.50" y2="11.10" stroke="#6e6e6e" stroke-width="1"/>
<text x="240.60" y="14.10" font-size="8.5" font-weight="normal" font-style="normal" text-anchor="end" fill="#1a1a1a">60</text>
<line x1="243.50" y1="143.29" x2="245.10" y2="143.29" stroke="#6e6e6e" stroke-width="1"/>
<line x1="243.50" y1="119.25" x2="245.10" y2="119.25" stroke="#6e6e6e" stroke-width="1"/>
<line x1="243.50" y1="95.22" x2="245.10" y2="95.22" stroke="#6e6e6e" stroke-width="1"/>
<line x1="243.50" y1="71.19" x2="245.10" y2="71.19" stroke="#6e6e6e" stroke-width="1"/>
<line x1="243.50" y1="47.15" x2="245.10" y2="47.15" stroke="#6e6e6e" stroke-width="1"/>
<line x1="243.50" y1="23.12" x2="245.10" y2="23.12" stroke="#6e6e6e" stroke-width="1"/>
<line x1="243.50" y1="155.30" x2="243.50" y2="152.30" stroke="#6e6e6e" stroke-width="1"/>
<text x="243.50" y="165.20" font-size="8.5" font-weight="normal" font-style="normal" text-anchor="middle" fill="#1a1a1a">-8</text>
<line x1="265.90" y1="155.30" x2="265.90" y2="152.30" stroke="#6e6e6e" stroke-width="1"/>
<text x="265.90" y="165.20" font-size="8.5" font-weight="normal" font-style="normal" text-anchor="middle" fill="#1a1a1a">-6</text>
<line x1="288.30" y1="155.30" x2="288.30" y2="152.30" stroke="#6e6e6e" stroke-width="1"/>
<text x="288.30" y="165.20" font-size="8.5" font-weight="normal" font-style="normal" text-anchor="middle" fill="#1a1a1a">-4</text>
<line x1="310.70" y1="155.30" x2="310.70" y2="152.30" stroke="#6e6e6e" stroke-width="1"/>
<text x="310.70" y="165.20" font-size="8.5" font-weight="normal" font-style="normal" text-anchor="middle" fill="#1a1a1a">-2</text>
<line x1="333.10" y1="155.30" x2="333.10" y2="152.30" stroke="#6e6e6e" stroke-width="1"/>
<text x="333.10" y="165.20" font-size="8.5" font-weight="normal" font-style="normal" text-anchor="middle" fill="#1a1a1a">0</text>
<line x1="355.50" y1="155.30" x2="355.50" y2="152.30" stroke="#6e6e6e" stroke-width="1"/>
<text x="355.50" y="165.20" font-size="8.5" font-weight="normal" font-style="normal" text-anchor="middle" fill="#1a1a1a">2</text>
<line x1="377.90" y1="155.30" x2="377.90" y2="152.30" stroke="#6e6e6e" stroke-width="1"/>
<text x="377.90" y="165.20" font-size="8.5" font-weight="normal" font-style="normal" text-anchor="middle" fill="#1a1a1a">4</text>
<line x1="400.30" y1="155.30" x2="400.30" y2="152.30" stroke="#6e6e6e" stroke-width="1"/>
<text x="400.30" y="165.20" font-size="8.5" font-weight="normal" font-style="normal" text-anchor="middle" fill="#1a1a1a">6</text>
<line x1="422.70" y1="155.30" x2="422.70" y2="152.30" stroke="#6e6e6e" stroke-width="1"/>
<text x="422.70" y="165.20" font-size="8.5" font-weight="normal" font-style="normal" text-anchor="middle" fill="#1a1a1a">8</text>
<line x1="254.70" y1="155.30" x2="254.70" y2="153.70" stroke="#6e6e6e" stroke-width="1"/>
<line x1="277.10" y1="155.30" x2="277.10" y2="153.70" stroke="#6e6e6e" stroke-width="1"/>
<line x1="299.50" y1="155.30" x2="299.50" y2="153.70" stroke="#6e6e6e" stroke-width="1"/>
<line x1="321.90" y1="155.30" x2="321.90" y2="153.70" stroke="#6e6e6e" stroke-width="1"/>
<line x1="344.30" y1="155.30" x2="344.30" y2="153.70" stroke="#6e6e6e" stroke-width="1"/>
<line x1="366.70" y1="155.30" x2="366.70" y2="153.70" stroke="#6e6e6e" stroke-width="1"/>
<line x1="389.10" y1="155.30" x2="389.10" y2="153.70" stroke="#6e6e6e" stroke-width="1"/>
<line x1="411.50" y1="155.30" x2="411.50" y2="153.70" stroke="#6e6e6e" stroke-width="1"/>
<rect x="243.50" y="11.10" width="179.20" height="144.20" fill="none" stroke="#6e6e6e" stroke-width="1"/>
<text x="250.60" y="22.80" font-size="8" font-weight="bold" font-style="normal" text-anchor="start" fill="#111">Cycled at 500 kHz,</text>
<text x="250.60" y="31.90" font-size="8" font-weight="bold" font-style="normal" text-anchor="start" fill="#111">Read at 5 kHz</text>
<path d="M403.25,31.82 C403.18,31.39 400.23,31.23 398.32,31.41 C395.59,31.67 391.98,33.06 388.51,34.19 C384.48,35.50 380.06,37.31 375.60,38.93 C370.81,40.66 365.97,42.21 360.68,44.28 C354.51,46.70 346.68,49.88 340.85,52.73 C336.04,55.07 331.48,57.57 328.02,59.83 C325.47,61.50 323.73,62.82 321.69,64.67 C319.47,66.69 317.13,69.05 315.27,71.57 C313.42,74.10 311.94,77.11 310.56,79.81 C309.29,82.29 308.38,84.65 307.25,87.12 C306.08,89.66 305.00,92.19 303.64,94.84 C302.15,97.77 300.74,101.20 298.62,103.90 C296.45,106.67 293.56,108.82 290.70,111.22 C287.60,113.81 283.99,116.38 280.62,118.84 C277.31,121.25 273.64,123.69 270.67,125.84 C268.24,127.61 265.61,129.01 264.08,130.78 C262.90,132.15 261.35,134.16 261.75,135.11 C262.15,136.05 264.57,136.51 266.49,136.44 C269.53,136.35 274.26,133.86 278.13,132.33 C282.11,130.75 285.91,128.89 290.05,127.07 C294.55,125.10 299.53,122.86 304.15,120.89 C308.56,119.02 312.93,117.41 317.15,115.54 C321.25,113.73 325.39,111.91 329.15,109.88 C332.67,107.98 335.71,105.85 339.06,103.80 C342.52,101.70 346.75,99.80 349.58,97.42 C351.97,95.40 353.62,93.37 355.31,90.83 C357.20,87.97 358.87,84.24 360.14,80.94 C361.33,77.85 361.72,74.69 362.80,71.67 C363.88,68.65 365.03,65.68 366.62,62.82 C368.29,59.80 370.39,56.78 372.69,54.06 C375.04,51.31 377.74,48.86 380.61,46.44 C383.64,43.90 387.31,41.39 390.46,39.24 C393.24,37.33 396.11,35.40 398.48,34.09 C400.24,33.11 403.34,32.26 403.25,31.82Z" fill="none" stroke="#5a0c0c" stroke-width="2.0" stroke-linejoin="round"/>
<path d="M403.25,31.82 C403.18,31.39 400.23,31.23 398.32,31.41 C395.59,31.67 391.98,33.06 388.51,34.19 C384.48,35.50 380.06,37.31 375.60,38.93 C370.81,40.66 365.97,42.21 360.68,44.28 C354.51,46.70 346.68,49.88 340.85,52.73 C336.04,55.07 331.48,57.57 328.02,59.83 C325.47,61.50 323.73,62.82 321.69,64.67 C319.47,66.69 317.13,69.05 315.27,71.57 C313.42,74.10 311.94,77.11 310.56,79.81 C309.29,82.29 308.38,84.65 307.25,87.12 C306.08,89.66 305.00,92.19 303.64,94.84 C302.15,97.77 300.74,101.20 298.62,103.90 C296.45,106.67 293.56,108.82 290.70,111.22 C287.60,113.81 283.99,116.38 280.62,118.84 C277.31,121.25 273.64,123.69 270.67,125.84 C268.24,127.61 265.61,129.01 264.08,130.78 C262.90,132.15 261.35,134.16 261.75,135.11 C262.15,136.05 264.57,136.51 266.49,136.44 C269.53,136.35 274.26,133.86 278.13,132.33 C282.11,130.75 285.91,128.89 290.05,127.07 C294.55,125.10 299.53,122.86 304.15,120.89 C308.56,119.02 312.93,117.41 317.15,115.54 C321.25,113.73 325.39,111.91 329.15,109.88 C332.67,107.98 335.71,105.85 339.06,103.80 C342.52,101.70 346.75,99.80 349.58,97.42 C351.97,95.40 353.62,93.37 355.31,90.83 C357.20,87.97 358.87,84.24 360.14,80.94 C361.33,77.85 361.72,74.69 362.80,71.67 C363.88,68.65 365.03,65.68 366.62,62.82 C368.29,59.80 370.39,56.78 372.69,54.06 C375.04,51.31 377.74,48.86 380.61,46.44 C383.64,43.90 387.31,41.39 390.46,39.24 C393.24,37.33 396.11,35.40 398.48,34.09 C400.24,33.11 403.34,32.26 403.25,31.82Z" fill="none" stroke="#a00a12" stroke-width="2.0" stroke-linejoin="round"/>
<path d="M403.25,31.82 C403.18,31.39 400.23,31.23 398.32,31.41 C395.59,31.67 391.98,33.06 388.51,34.19 C384.48,35.50 380.06,37.31 375.60,38.93 C370.81,40.66 365.97,42.21 360.68,44.28 C354.51,46.70 346.68,49.88 340.85,52.73 C336.04,55.07 331.48,57.57 328.02,59.83 C325.47,61.50 323.73,62.82 321.69,64.67 C319.47,66.69 317.13,69.05 315.27,71.57 C313.42,74.10 311.94,77.11 310.56,79.81 C309.29,82.29 308.38,84.65 307.25,87.12 C306.08,89.66 305.00,92.19 303.64,94.84 C302.15,97.77 300.74,101.20 298.62,103.90 C296.45,106.67 293.56,108.82 290.70,111.22 C287.60,113.81 283.99,116.38 280.62,118.84 C277.31,121.25 273.64,123.69 270.67,125.84 C268.24,127.61 265.61,129.01 264.08,130.78 C262.90,132.15 261.35,134.16 261.75,135.11 C262.15,136.05 264.57,136.51 266.49,136.44 C269.53,136.35 274.26,133.86 278.13,132.33 C282.11,130.75 285.91,128.89 290.05,127.07 C294.55,125.10 299.53,122.86 304.15,120.89 C308.56,119.02 312.93,117.41 317.15,115.54 C321.25,113.73 325.39,111.91 329.15,109.88 C332.67,107.98 335.71,105.85 339.06,103.80 C342.52,101.70 346.75,99.80 349.58,97.42 C351.97,95.40 353.62,93.37 355.31,90.83 C357.20,87.97 358.87,84.24 360.14,80.94 C361.33,77.85 361.72,74.69 362.80,71.67 C363.88,68.65 365.03,65.68 366.62,62.82 C368.29,59.80 370.39,56.78 372.69,54.06 C375.04,51.31 377.74,48.86 380.61,46.44 C383.64,43.90 387.31,41.39 390.46,39.24 C393.24,37.33 396.11,35.40 398.48,34.09 C400.24,33.11 403.34,32.26 403.25,31.82Z" fill="none" stroke="#ff1010" stroke-width="2.0" stroke-linejoin="round"/>
<path d="M403.21,32.08 C403.13,31.64 400.16,31.49 398.25,31.67 C395.51,31.94 391.90,33.32 388.42,34.44 C384.38,35.74 379.96,37.54 375.49,39.15 C370.70,40.88 365.86,42.41 360.56,44.48 C354.38,46.89 346.54,50.05 340.70,52.88 C335.88,55.22 331.31,57.70 327.84,59.95 C325.28,61.61 323.53,62.92 321.48,64.76 C319.25,66.77 316.91,69.12 315.05,71.63 C313.19,74.14 311.70,77.14 310.32,79.82 C309.05,82.29 308.13,84.64 306.99,87.10 C305.82,89.63 304.75,92.14 303.39,94.78 C301.89,97.69 300.46,101.10 298.33,103.80 C296.15,106.55 293.26,108.69 290.40,111.07 C287.30,113.65 283.69,116.20 280.33,118.65 C277.04,121.05 273.38,123.48 270.45,125.62 C268.04,127.38 265.43,128.77 263.96,130.54 C262.83,131.90 261.37,133.90 261.79,134.84 C262.21,135.79 264.65,136.24 266.58,136.17 C269.63,136.07 274.38,133.60 278.27,132.07 C282.26,130.50 286.06,128.66 290.20,126.85 C294.70,124.88 299.68,122.65 304.30,120.70 C308.71,118.84 313.08,117.23 317.30,115.37 C321.40,113.57 325.54,111.76 329.30,109.74 C332.82,107.85 335.87,105.73 339.23,103.69 C342.69,101.60 346.92,99.72 349.76,97.34 C352.15,95.34 353.82,93.32 355.52,90.79 C357.42,87.95 359.10,84.23 360.38,80.95 C361.58,77.88 361.99,74.73 363.10,71.73 C364.21,68.72 365.42,65.77 367.04,62.92 C368.75,59.92 370.86,56.91 373.19,54.21 C375.55,51.47 378.26,49.04 381.12,46.63 C384.12,44.11 387.73,41.61 390.82,39.46 C393.54,37.56 396.37,35.65 398.66,34.34 C400.35,33.37 403.29,32.53 403.21,32.08Z" fill="none" stroke="#ff4a12" stroke-width="2.2" stroke-linejoin="round"/>
<path d="M403.06,32.95 C402.95,32.48 399.95,32.36 398.00,32.55 C395.23,32.81 391.62,34.17 388.12,35.27 C384.07,36.55 379.62,38.32 375.14,39.90 C370.33,41.60 365.48,43.11 360.16,45.14 C353.95,47.50 346.08,50.61 340.20,53.39 C335.35,55.69 330.75,58.13 327.24,60.34 C324.65,61.98 322.86,63.26 320.78,65.08 C318.53,67.04 316.18,69.36 314.30,71.82 C312.42,74.29 310.92,77.24 309.52,79.88 C308.23,82.30 307.29,84.61 306.14,87.03 C304.96,89.51 303.91,91.99 302.54,94.58 C301.03,97.45 299.54,100.80 297.38,103.44 C295.18,106.15 292.27,108.25 289.40,110.59 C286.30,113.12 282.71,115.63 279.38,118.04 C276.14,120.39 272.54,122.77 269.70,124.89 C267.40,126.61 264.85,127.98 263.56,129.72 C262.58,131.06 261.47,133.03 261.94,133.95 C262.44,134.94 264.89,135.33 266.88,135.26 C269.99,135.16 274.79,132.74 278.72,131.24 C282.73,129.70 286.54,127.88 290.70,126.10 C295.21,124.17 300.19,121.98 304.80,120.06 C309.21,118.22 313.58,116.65 317.80,114.82 C321.90,113.05 326.03,111.27 329.80,109.28 C333.33,107.42 336.40,105.34 339.78,103.34 C343.25,101.28 347.49,99.43 350.36,97.10 C352.78,95.13 354.49,93.15 356.22,90.65 C358.15,87.87 359.84,84.21 361.18,80.99 C362.43,77.97 362.90,74.86 364.10,71.92 C365.31,68.96 366.71,66.07 368.44,63.26 C370.26,60.32 372.46,57.36 374.84,54.70 C377.25,52.02 380.00,49.64 382.82,47.25 C385.72,44.80 389.11,42.32 392.02,40.20 C394.56,38.35 397.21,36.48 399.26,35.17 C400.71,34.24 403.16,33.39 403.06,32.95Z" fill="none" stroke="#ff7a12" stroke-width="2.3" stroke-linejoin="round"/>
<path d="M402.88,34.00 C402.73,33.46 399.69,33.42 397.70,33.60 C394.90,33.86 391.28,35.18 387.76,36.26 C383.69,37.52 379.22,39.25 374.72,40.80 C369.89,42.46 365.03,43.94 359.68,45.93 C353.44,48.24 345.52,51.29 339.60,54.01 C334.71,56.26 330.08,58.65 326.52,60.81 C323.89,62.42 322.05,63.66 319.94,65.45 C317.67,67.37 315.30,69.64 313.40,72.06 C311.51,74.47 309.98,77.36 308.56,79.94 C307.25,82.32 306.28,84.58 305.12,86.94 C303.93,89.37 302.90,91.81 301.52,94.34 C299.98,97.15 298.42,100.43 296.24,103.02 C294.00,105.67 291.08,107.72 288.20,110.02 C285.11,112.49 281.52,114.94 278.24,117.31 C275.06,119.61 271.52,121.93 268.80,124.02 C266.62,125.69 264.14,127.03 263.08,128.75 C262.28,130.05 261.56,131.98 262.12,132.89 C262.74,133.90 265.19,134.25 267.24,134.17 C270.42,134.06 275.28,131.71 279.26,130.23 C283.30,128.73 287.13,126.95 291.30,125.20 C295.82,123.31 300.79,121.16 305.40,119.28 C309.81,117.49 314.17,115.94 318.40,114.16 C322.50,112.42 326.62,110.68 330.40,108.73 C333.94,106.91 337.04,104.88 340.44,102.92 C343.93,100.90 348.17,99.09 351.08,96.80 C353.53,94.88 355.29,92.95 357.06,90.49 C359.03,87.77 360.74,84.19 362.14,81.03 C363.45,78.07 363.99,75.02 365.30,72.15 C366.64,69.23 368.26,66.42 370.12,63.67 C372.07,60.79 374.37,57.90 376.82,55.29 C379.28,52.67 382.10,50.35 384.86,48.00 C387.64,45.62 390.78,43.19 393.46,41.09 C395.77,39.30 398.24,37.47 399.98,36.16 C401.14,35.29 403.01,34.44 402.88,34.00Z" fill="none" stroke="#ffa812" stroke-width="2.4" stroke-linejoin="round"/>
<path d="M402.70,35.04 C402.47,34.44 399.43,34.47 397.40,34.65 C394.57,34.91 390.94,36.20 387.40,37.26 C383.31,38.48 378.82,40.18 374.30,41.70 C369.45,43.33 364.57,44.77 359.20,46.72 C352.93,48.98 344.96,51.96 339.00,54.63 C334.08,56.83 329.41,59.17 325.80,61.29 C323.13,62.85 321.25,64.07 319.10,65.82 C316.80,67.70 314.42,69.92 312.50,72.29 C310.59,74.65 309.04,77.48 307.60,80.01 C306.27,82.33 305.27,84.54 304.10,86.86 C302.90,89.24 301.90,91.63 300.50,94.10 C298.94,96.85 297.31,100.06 295.10,102.59 C292.83,105.19 289.88,107.19 287.00,109.44 C283.91,111.86 280.34,114.26 277.10,116.58 C273.98,118.82 270.50,121.09 267.90,123.14 C265.85,124.77 263.44,126.10 262.60,127.78 C261.96,129.05 261.65,130.94 262.30,131.83 C263.06,132.86 265.48,133.16 267.60,133.08 C270.84,132.96 275.77,130.68 279.80,129.22 C283.87,127.75 287.71,126.01 291.90,124.30 C296.42,122.45 301.39,120.35 306.00,118.51 C310.41,116.75 314.77,115.24 319.00,113.49 C323.10,111.80 327.22,110.08 331.00,108.19 C334.56,106.40 337.68,104.41 341.10,102.49 C344.61,100.52 348.86,98.75 351.80,96.51 C354.28,94.63 356.09,92.74 357.90,90.33 C359.90,87.67 361.64,84.16 363.10,81.07 C364.47,78.18 365.08,75.18 366.50,72.39 C367.96,69.51 369.81,66.78 371.80,64.09 C373.89,61.27 376.28,58.44 378.80,55.88 C381.32,53.33 384.20,51.08 386.90,48.74 C389.56,46.45 392.44,44.05 394.90,41.99 C396.98,40.24 399.30,38.48 400.70,37.16 C401.57,36.34 402.87,35.49 402.70,35.04Z" fill="none" stroke="#ffd40e" stroke-width="2.5" stroke-linejoin="round"/>
<line x1="375.20" y1="73.60" x2="394.30" y2="73.60" stroke="#c9a3a3" stroke-width="1"/>
<circle cx="384.8" cy="73.60" r="1.5" fill="#5a0c0c"/>
<text x="396.70" y="76.60" font-size="8" font-weight="bold" font-style="normal" text-anchor="start" fill="#111">1st</text>
<line x1="375.20" y1="85.17" x2="394.30" y2="85.17" stroke="#e0a0a0" stroke-width="1"/>
<circle cx="384.8" cy="85.17" r="1.5" fill="#a00a12"/>
<text x="396.7" y="88.17" font-size="8" font-weight="bold" fill="#111">10<tspan dy="-3.60" font-size="5.44">2</tspan><tspan dy="3.60" font-size="8">&#8203;</tspan>th</text>
<line x1="375.20" y1="96.74" x2="394.30" y2="96.74" stroke="#f8a0a0" stroke-width="1"/>
<circle cx="384.8" cy="96.74" r="1.5" fill="#ff1010"/>
<text x="396.7" y="99.74" font-size="8" font-weight="bold" fill="#111">10<tspan dy="-3.60" font-size="5.44">4</tspan><tspan dy="3.60" font-size="8">&#8203;</tspan>th</text>
<line x1="375.20" y1="108.31" x2="394.30" y2="108.31" stroke="#fbb09a" stroke-width="1"/>
<circle cx="384.8" cy="108.31" r="1.5" fill="#ff4a12"/>
<text x="396.7" y="111.31" font-size="8" font-weight="bold" fill="#111">10<tspan dy="-3.60" font-size="5.44">6</tspan><tspan dy="3.60" font-size="8">&#8203;</tspan>th</text>
<line x1="375.20" y1="119.88" x2="394.30" y2="119.88" stroke="#fbc49a" stroke-width="1"/>
<circle cx="384.8" cy="119.88" r="1.5" fill="#ff7a12"/>
<text x="396.7" y="122.88" font-size="8" font-weight="bold" fill="#111">10<tspan dy="-3.60" font-size="5.44">8</tspan><tspan dy="3.60" font-size="8">&#8203;</tspan>th</text>
<line x1="375.20" y1="131.45" x2="394.30" y2="131.45" stroke="#fbd79a" stroke-width="1"/>
<circle cx="384.8" cy="131.45" r="1.5" fill="#ffa812"/>
<text x="396.7" y="134.45" font-size="8" font-weight="bold" fill="#111">10<tspan dy="-3.60" font-size="5.44">10</tspan><tspan dy="3.60" font-size="8">&#8203;</tspan>th</text>
<line x1="375.20" y1="143.02" x2="394.30" y2="143.02" stroke="#fde9a0" stroke-width="1"/>
<circle cx="384.8" cy="143.02" r="1.5" fill="#ffd40e"/>
<text x="396.7" y="146.02" font-size="8" font-weight="bold" fill="#111">10<tspan dy="-3.60" font-size="5.44">11</tspan><tspan dy="3.60" font-size="8">&#8203;</tspan>th</text>
<text x="224.3" y="84" font-size="11.6" text-anchor="middle" fill="#1a1a1a" transform="rotate(-90 224.3 84)">Polarization (μC cm<tspan dy="-5.22" font-size="7.89">-2</tspan><tspan dy="5.22" font-size="11.6">&#8203;</tspan>)</text>
<text x="329.7" y="177" font-size="11.1" text-anchor="middle" fill="#1a1a1a">Electric field (MV cm<tspan dy="-5.00" font-size="7.55">-1</tspan><tspan dy="5.00" font-size="11.1">&#8203;</tspan>)</text>
<text x="433.50" y="10.30" font-size="14" font-weight="bold" font-style="normal" text-anchor="start" fill="#000">c</text>
<rect x="510.3" y="35.2" width="78.2" height="106.3" rx="4.5" fill="#7b7bc0" fill-opacity="0.2"/>
<line x1="457.40" y1="157.25" x2="460.40" y2="157.25" stroke="#6e6e6e" stroke-width="1"/>
<text x="454.50" y="160.25" font-size="8.5" text-anchor="end" fill="#1a1a1a">10<tspan dy="-3.83" font-size="5.78">4</tspan></text>
<line x1="457.40" y1="152.20" x2="459.00" y2="152.20" stroke="#6e6e6e" stroke-width="0.8"/>
<line x1="457.40" y1="149.25" x2="459.00" y2="149.25" stroke="#6e6e6e" stroke-width="0.8"/>
<line x1="457.40" y1="147.15" x2="459.00" y2="147.15" stroke="#6e6e6e" stroke-width="0.8"/>
<line x1="457.40" y1="145.53" x2="459.00" y2="145.53" stroke="#6e6e6e" stroke-width="0.8"/>
<line x1="457.40" y1="144.20" x2="459.00" y2="144.20" stroke="#6e6e6e" stroke-width="0.8"/>
<line x1="457.40" y1="143.08" x2="459.00" y2="143.08" stroke="#6e6e6e" stroke-width="0.8"/>
<line x1="457.40" y1="142.11" x2="459.00" y2="142.11" stroke="#6e6e6e" stroke-width="0.8"/>
<line x1="457.40" y1="141.25" x2="459.00" y2="141.25" stroke="#6e6e6e" stroke-width="0.8"/>
<line x1="457.40" y1="140.48" x2="460.40" y2="140.48" stroke="#6e6e6e" stroke-width="1"/>
<line x1="457.40" y1="135.43" x2="459.00" y2="135.43" stroke="#6e6e6e" stroke-width="0.8"/>
<line x1="457.40" y1="132.48" x2="459.00" y2="132.48" stroke="#6e6e6e" stroke-width="0.8"/>
<line x1="457.40" y1="130.38" x2="459.00" y2="130.38" stroke="#6e6e6e" stroke-width="0.8"/>
<line x1="457.40" y1="128.76" x2="459.00" y2="128.76" stroke="#6e6e6e" stroke-width="0.8"/>
<line x1="457.40" y1="127.43" x2="459.00" y2="127.43" stroke="#6e6e6e" stroke-width="0.8"/>
<line x1="457.40" y1="126.31" x2="459.00" y2="126.31" stroke="#6e6e6e" stroke-width="0.8"/>
<line x1="457.40" y1="125.34" x2="459.00" y2="125.34" stroke="#6e6e6e" stroke-width="0.8"/>
<line x1="457.40" y1="124.48" x2="459.00" y2="124.48" stroke="#6e6e6e" stroke-width="0.8"/>
<line x1="457.40" y1="123.71" x2="460.40" y2="123.71" stroke="#6e6e6e" stroke-width="1"/>
<text x="454.50" y="126.71" font-size="8.5" text-anchor="end" fill="#1a1a1a">10<tspan dy="-3.83" font-size="5.78">6</tspan></text>
<line x1="457.40" y1="118.66" x2="459.00" y2="118.66" stroke="#6e6e6e" stroke-width="0.8"/>
<line x1="457.40" y1="115.71" x2="459.00" y2="115.71" stroke="#6e6e6e" stroke-width="0.8"/>
<line x1="457.40" y1="113.61" x2="459.00" y2="113.61" stroke="#6e6e6e" stroke-width="0.8"/>
<line x1="457.40" y1="111.99" x2="459.00" y2="111.99" stroke="#6e6e6e" stroke-width="0.8"/>
<line x1="457.40" y1="110.66" x2="459.00" y2="110.66" stroke="#6e6e6e" stroke-width="0.8"/>
<line x1="457.40" y1="109.54" x2="459.00" y2="109.54" stroke="#6e6e6e" stroke-width="0.8"/>
<line x1="457.40" y1="108.57" x2="459.00" y2="108.57" stroke="#6e6e6e" stroke-width="0.8"/>
<line x1="457.40" y1="107.71" x2="459.00" y2="107.71" stroke="#6e6e6e" stroke-width="0.8"/>
<line x1="457.40" y1="106.94" x2="460.40" y2="106.94" stroke="#6e6e6e" stroke-width="1"/>
<line x1="457.40" y1="101.89" x2="459.00" y2="101.89" stroke="#6e6e6e" stroke-width="0.8"/>
<line x1="457.40" y1="98.94" x2="459.00" y2="98.94" stroke="#6e6e6e" stroke-width="0.8"/>
<line x1="457.40" y1="96.84" x2="459.00" y2="96.84" stroke="#6e6e6e" stroke-width="0.8"/>
<line x1="457.40" y1="95.22" x2="459.00" y2="95.22" stroke="#6e6e6e" stroke-width="0.8"/>
<line x1="457.40" y1="93.89" x2="459.00" y2="93.89" stroke="#6e6e6e" stroke-width="0.8"/>
<line x1="457.40" y1="92.77" x2="459.00" y2="92.77" stroke="#6e6e6e" stroke-width="0.8"/>
<line x1="457.40" y1="91.80" x2="459.00" y2="91.80" stroke="#6e6e6e" stroke-width="0.8"/>
<line x1="457.40" y1="90.94" x2="459.00" y2="90.94" stroke="#6e6e6e" stroke-width="0.8"/>
<line x1="457.40" y1="90.17" x2="460.40" y2="90.17" stroke="#6e6e6e" stroke-width="1"/>
<text x="454.50" y="93.17" font-size="8.5" text-anchor="end" fill="#1a1a1a">10<tspan dy="-3.83" font-size="5.78">8</tspan></text>
<line x1="457.40" y1="85.12" x2="459.00" y2="85.12" stroke="#6e6e6e" stroke-width="0.8"/>
<line x1="457.40" y1="82.17" x2="459.00" y2="82.17" stroke="#6e6e6e" stroke-width="0.8"/>
<line x1="457.40" y1="80.07" x2="459.00" y2="80.07" stroke="#6e6e6e" stroke-width="0.8"/>
<line x1="457.40" y1="78.45" x2="459.00" y2="78.45" stroke="#6e6e6e" stroke-width="0.8"/>
<line x1="457.40" y1="77.12" x2="459.00" y2="77.12" stroke="#6e6e6e" stroke-width="0.8"/>
<line x1="457.40" y1="76.00" x2="459.00" y2="76.00" stroke="#6e6e6e" stroke-width="0.8"/>
<line x1="457.40" y1="75.03" x2="459.00" y2="75.03" stroke="#6e6e6e" stroke-width="0.8"/>
<line x1="457.40" y1="74.17" x2="459.00" y2="74.17" stroke="#6e6e6e" stroke-width="0.8"/>
<line x1="457.40" y1="73.40" x2="460.40" y2="73.40" stroke="#6e6e6e" stroke-width="1"/>
<line x1="457.40" y1="68.35" x2="459.00" y2="68.35" stroke="#6e6e6e" stroke-width="0.8"/>
<line x1="457.40" y1="65.40" x2="459.00" y2="65.40" stroke="#6e6e6e" stroke-width="0.8"/>
<line x1="457.40" y1="63.30" x2="459.00" y2="63.30" stroke="#6e6e6e" stroke-width="0.8"/>
<line x1="457.40" y1="61.68" x2="459.00" y2="61.68" stroke="#6e6e6e" stroke-width="0.8"/>
<line x1="457.40" y1="60.35" x2="459.00" y2="60.35" stroke="#6e6e6e" stroke-width="0.8"/>
<line x1="457.40" y1="59.23" x2="459.00" y2="59.23" stroke="#6e6e6e" stroke-width="0.8"/>
<line x1="457.40" y1="58.26" x2="459.00" y2="58.26" stroke="#6e6e6e" stroke-width="0.8"/>
<line x1="457.40" y1="57.40" x2="459.00" y2="57.40" stroke="#6e6e6e" stroke-width="0.8"/>
<line x1="457.40" y1="56.63" x2="460.40" y2="56.63" stroke="#6e6e6e" stroke-width="1"/>
<text x="454.50" y="59.63" font-size="8.5" text-anchor="end" fill="#1a1a1a">10<tspan dy="-3.83" font-size="5.78">10</tspan></text>
<line x1="457.40" y1="51.58" x2="459.00" y2="51.58" stroke="#6e6e6e" stroke-width="0.8"/>
<line x1="457.40" y1="48.63" x2="459.00" y2="48.63" stroke="#6e6e6e" stroke-width="0.8"/>
<line x1="457.40" y1="46.53" x2="459.00" y2="46.53" stroke="#6e6e6e" stroke-width="0.8"/>
<line x1="457.40" y1="44.91" x2="459.00" y2="44.91" stroke="#6e6e6e" stroke-width="0.8"/>
<line x1="457.40" y1="43.58" x2="459.00" y2="43.58" stroke="#6e6e6e" stroke-width="0.8"/>
<line x1="457.40" y1="42.46" x2="459.00" y2="42.46" stroke="#6e6e6e" stroke-width="0.8"/>
<line x1="457.40" y1="41.49" x2="459.00" y2="41.49" stroke="#6e6e6e" stroke-width="0.8"/>
<line x1="457.40" y1="40.63" x2="459.00" y2="40.63" stroke="#6e6e6e" stroke-width="0.8"/>
<line x1="457.40" y1="39.86" x2="460.40" y2="39.86" stroke="#6e6e6e" stroke-width="1"/>
<line x1="457.40" y1="34.81" x2="459.00" y2="34.81" stroke="#6e6e6e" stroke-width="0.8"/>
<line x1="457.40" y1="31.86" x2="459.00" y2="31.86" stroke="#6e6e6e" stroke-width="0.8"/>
<line x1="457.40" y1="29.76" x2="459.00" y2="29.76" stroke="#6e6e6e" stroke-width="0.8"/>
<line x1="457.40" y1="28.14" x2="459.00" y2="28.14" stroke="#6e6e6e" stroke-width="0.8"/>
<line x1="457.40" y1="26.81" x2="459.00" y2="26.81" stroke="#6e6e6e" stroke-width="0.8"/>
<line x1="457.40" y1="25.69" x2="459.00" y2="25.69" stroke="#6e6e6e" stroke-width="0.8"/>
<line x1="457.40" y1="24.72" x2="459.00" y2="24.72" stroke="#6e6e6e" stroke-width="0.8"/>
<line x1="457.40" y1="23.86" x2="459.00" y2="23.86" stroke="#6e6e6e" stroke-width="0.8"/>
<line x1="457.40" y1="23.09" x2="460.40" y2="23.09" stroke="#6e6e6e" stroke-width="1"/>
<text x="454.50" y="26.09" font-size="8.5" text-anchor="end" fill="#1a1a1a">10<tspan dy="-3.83" font-size="5.78">12</tspan></text>
<line x1="457.40" y1="18.04" x2="459.00" y2="18.04" stroke="#6e6e6e" stroke-width="0.8"/>
<line x1="457.40" y1="15.09" x2="459.00" y2="15.09" stroke="#6e6e6e" stroke-width="0.8"/>
<line x1="457.40" y1="12.99" x2="459.00" y2="12.99" stroke="#6e6e6e" stroke-width="0.8"/>
<line x1="457.40" y1="11.37" x2="459.00" y2="11.37" stroke="#6e6e6e" stroke-width="0.8"/>
<line x1="457.82" y1="157.25" x2="457.82" y2="155.85" stroke="#6e6e6e" stroke-width="0.7"/>
<line x1="460.21" y1="157.25" x2="460.21" y2="155.85" stroke="#6e6e6e" stroke-width="0.7"/>
<line x1="461.90" y1="157.25" x2="461.90" y2="155.85" stroke="#6e6e6e" stroke-width="0.7"/>
<line x1="463.22" y1="157.25" x2="463.22" y2="155.85" stroke="#6e6e6e" stroke-width="0.7"/>
<line x1="464.29" y1="157.25" x2="464.29" y2="155.85" stroke="#6e6e6e" stroke-width="0.7"/>
<line x1="465.20" y1="157.25" x2="465.20" y2="155.85" stroke="#6e6e6e" stroke-width="0.7"/>
<line x1="465.99" y1="157.25" x2="465.99" y2="155.85" stroke="#6e6e6e" stroke-width="0.7"/>
<line x1="466.68" y1="157.25" x2="466.68" y2="155.85" stroke="#6e6e6e" stroke-width="0.7"/>
<line x1="467.30" y1="157.25" x2="467.30" y2="154.85" stroke="#6e6e6e" stroke-width="1"/>
<line x1="471.38" y1="157.25" x2="471.38" y2="155.85" stroke="#6e6e6e" stroke-width="0.7"/>
<line x1="473.77" y1="157.25" x2="473.77" y2="155.85" stroke="#6e6e6e" stroke-width="0.7"/>
<line x1="475.46" y1="157.25" x2="475.46" y2="155.85" stroke="#6e6e6e" stroke-width="0.7"/>
<line x1="476.78" y1="157.25" x2="476.78" y2="155.85" stroke="#6e6e6e" stroke-width="0.7"/>
<line x1="477.85" y1="157.25" x2="477.85" y2="155.85" stroke="#6e6e6e" stroke-width="0.7"/>
<line x1="478.76" y1="157.25" x2="478.76" y2="155.85" stroke="#6e6e6e" stroke-width="0.7"/>
<line x1="479.55" y1="157.25" x2="479.55" y2="155.85" stroke="#6e6e6e" stroke-width="0.7"/>
<line x1="480.24" y1="157.25" x2="480.24" y2="155.85" stroke="#6e6e6e" stroke-width="0.7"/>
<line x1="480.86" y1="157.25" x2="480.86" y2="154.85" stroke="#6e6e6e" stroke-width="1"/>
<text x="480.26" y="168.50" font-size="8.5" text-anchor="middle" fill="#1a1a1a">10<tspan dy="-3.83" font-size="5.78">1</tspan></text>
<line x1="484.94" y1="157.25" x2="484.94" y2="155.85" stroke="#6e6e6e" stroke-width="0.7"/>
<line x1="487.33" y1="157.25" x2="487.33" y2="155.85" stroke="#6e6e6e" stroke-width="0.7"/>
<line x1="489.02" y1="157.25" x2="489.02" y2="155.85" stroke="#6e6e6e" stroke-width="0.7"/>
<line x1="490.34" y1="157.25" x2="490.34" y2="155.85" stroke="#6e6e6e" stroke-width="0.7"/>
<line x1="491.41" y1="157.25" x2="491.41" y2="155.85" stroke="#6e6e6e" stroke-width="0.7"/>
<line x1="492.32" y1="157.25" x2="492.32" y2="155.85" stroke="#6e6e6e" stroke-width="0.7"/>
<line x1="493.11" y1="157.25" x2="493.11" y2="155.85" stroke="#6e6e6e" stroke-width="0.7"/>
<line x1="493.80" y1="157.25" x2="493.80" y2="155.85" stroke="#6e6e6e" stroke-width="0.7"/>
<line x1="494.42" y1="157.25" x2="494.42" y2="154.85" stroke="#6e6e6e" stroke-width="1"/>
<line x1="498.50" y1="157.25" x2="498.50" y2="155.85" stroke="#6e6e6e" stroke-width="0.7"/>
<line x1="500.89" y1="157.25" x2="500.89" y2="155.85" stroke="#6e6e6e" stroke-width="0.7"/>
<line x1="502.58" y1="157.25" x2="502.58" y2="155.85" stroke="#6e6e6e" stroke-width="0.7"/>
<line x1="503.90" y1="157.25" x2="503.90" y2="155.85" stroke="#6e6e6e" stroke-width="0.7"/>
<line x1="504.97" y1="157.25" x2="504.97" y2="155.85" stroke="#6e6e6e" stroke-width="0.7"/>
<line x1="505.88" y1="157.25" x2="505.88" y2="155.85" stroke="#6e6e6e" stroke-width="0.7"/>
<line x1="506.67" y1="157.25" x2="506.67" y2="155.85" stroke="#6e6e6e" stroke-width="0.7"/>
<line x1="507.36" y1="157.25" x2="507.36" y2="155.85" stroke="#6e6e6e" stroke-width="0.7"/>
<line x1="507.98" y1="157.25" x2="507.98" y2="154.85" stroke="#6e6e6e" stroke-width="1"/>
<text x="507.38" y="168.50" font-size="8.5" text-anchor="middle" fill="#1a1a1a">10<tspan dy="-3.83" font-size="5.78">3</tspan></text>
<line x1="512.06" y1="157.25" x2="512.06" y2="155.85" stroke="#6e6e6e" stroke-width="0.7"/>
<line x1="514.45" y1="157.25" x2="514.45" y2="155.85" stroke="#6e6e6e" stroke-width="0.7"/>
<line x1="516.14" y1="157.25" x2="516.14" y2="155.85" stroke="#6e6e6e" stroke-width="0.7"/>
<line x1="517.46" y1="157.25" x2="517.46" y2="155.85" stroke="#6e6e6e" stroke-width="0.7"/>
<line x1="518.53" y1="157.25" x2="518.53" y2="155.85" stroke="#6e6e6e" stroke-width="0.7"/>
<line x1="519.44" y1="157.25" x2="519.44" y2="155.85" stroke="#6e6e6e" stroke-width="0.7"/>
<line x1="520.23" y1="157.25" x2="520.23" y2="155.85" stroke="#6e6e6e" stroke-width="0.7"/>
<line x1="520.92" y1="157.25" x2="520.92" y2="155.85" stroke="#6e6e6e" stroke-width="0.7"/>
<line x1="521.54" y1="157.25" x2="521.54" y2="154.85" stroke="#6e6e6e" stroke-width="1"/>
<line x1="525.62" y1="157.25" x2="525.62" y2="155.85" stroke="#6e6e6e" stroke-width="0.7"/>
<line x1="528.01" y1="157.25" x2="528.01" y2="155.85" stroke="#6e6e6e" stroke-width="0.7"/>
<line x1="529.70" y1="157.25" x2="529.70" y2="155.85" stroke="#6e6e6e" stroke-width="0.7"/>
<line x1="531.02" y1="157.25" x2="531.02" y2="155.85" stroke="#6e6e6e" stroke-width="0.7"/>
<line x1="532.09" y1="157.25" x2="532.09" y2="155.85" stroke="#6e6e6e" stroke-width="0.7"/>
<line x1="533.00" y1="157.25" x2="533.00" y2="155.85" stroke="#6e6e6e" stroke-width="0.7"/>
<line x1="533.79" y1="157.25" x2="533.79" y2="155.85" stroke="#6e6e6e" stroke-width="0.7"/>
<line x1="534.48" y1="157.25" x2="534.48" y2="155.85" stroke="#6e6e6e" stroke-width="0.7"/>
<line x1="535.10" y1="157.25" x2="535.10" y2="154.85" stroke="#6e6e6e" stroke-width="1"/>
<text x="534.50" y="168.50" font-size="8.5" text-anchor="middle" fill="#1a1a1a">10<tspan dy="-3.83" font-size="5.78">5</tspan></text>
<line x1="539.18" y1="157.25" x2="539.18" y2="155.85" stroke="#6e6e6e" stroke-width="0.7"/>
<line x1="541.57" y1="157.25" x2="541.57" y2="155.85" stroke="#6e6e6e" stroke-width="0.7"/>
<line x1="543.26" y1="157.25" x2="543.26" y2="155.85" stroke="#6e6e6e" stroke-width="0.7"/>
<line x1="544.58" y1="157.25" x2="544.58" y2="155.85" stroke="#6e6e6e" stroke-width="0.7"/>
<line x1="545.65" y1="157.25" x2="545.65" y2="155.85" stroke="#6e6e6e" stroke-width="0.7"/>
<line x1="546.56" y1="157.25" x2="546.56" y2="155.85" stroke="#6e6e6e" stroke-width="0.7"/>
<line x1="547.35" y1="157.25" x2="547.35" y2="155.85" stroke="#6e6e6e" stroke-width="0.7"/>
<line x1="548.04" y1="157.25" x2="548.04" y2="155.85" stroke="#6e6e6e" stroke-width="0.7"/>
<line x1="548.66" y1="157.25" x2="548.66" y2="154.85" stroke="#6e6e6e" stroke-width="1"/>
<line x1="552.74" y1="157.25" x2="552.74" y2="155.85" stroke="#6e6e6e" stroke-width="0.7"/>
<line x1="555.13" y1="157.25" x2="555.13" y2="155.85" stroke="#6e6e6e" stroke-width="0.7"/>
<line x1="556.82" y1="157.25" x2="556.82" y2="155.85" stroke="#6e6e6e" stroke-width="0.7"/>
<line x1="558.14" y1="157.25" x2="558.14" y2="155.85" stroke="#6e6e6e" stroke-width="0.7"/>
<line x1="559.21" y1="157.25" x2="559.21" y2="155.85" stroke="#6e6e6e" stroke-width="0.7"/>
<line x1="560.12" y1="157.25" x2="560.12" y2="155.85" stroke="#6e6e6e" stroke-width="0.7"/>
<line x1="560.91" y1="157.25" x2="560.91" y2="155.85" stroke="#6e6e6e" stroke-width="0.7"/>
<line x1="561.60" y1="157.25" x2="561.60" y2="155.85" stroke="#6e6e6e" stroke-width="0.7"/>
<line x1="562.22" y1="157.25" x2="562.22" y2="154.85" stroke="#6e6e6e" stroke-width="1"/>
<text x="561.62" y="168.50" font-size="8.5" text-anchor="middle" fill="#1a1a1a">10<tspan dy="-3.83" font-size="5.78">7</tspan></text>
<line x1="566.30" y1="157.25" x2="566.30" y2="155.85" stroke="#6e6e6e" stroke-width="0.7"/>
<line x1="568.69" y1="157.25" x2="568.69" y2="155.85" stroke="#6e6e6e" stroke-width="0.7"/>
<line x1="570.38" y1="157.25" x2="570.38" y2="155.85" stroke="#6e6e6e" stroke-width="0.7"/>
<line x1="571.70" y1="157.25" x2="571.70" y2="155.85" stroke="#6e6e6e" stroke-width="0.7"/>
<line x1="572.77" y1="157.25" x2="572.77" y2="155.85" stroke="#6e6e6e" stroke-width="0.7"/>
<line x1="573.68" y1="157.25" x2="573.68" y2="155.85" stroke="#6e6e6e" stroke-width="0.7"/>
<line x1="574.47" y1="157.25" x2="574.47" y2="155.85" stroke="#6e6e6e" stroke-width="0.7"/>
<line x1="575.16" y1="157.25" x2="575.16" y2="155.85" stroke="#6e6e6e" stroke-width="0.7"/>
<line x1="575.78" y1="157.25" x2="575.78" y2="154.85" stroke="#6e6e6e" stroke-width="1"/>
<line x1="579.86" y1="157.25" x2="579.86" y2="155.85" stroke="#6e6e6e" stroke-width="0.7"/>
<line x1="582.25" y1="157.25" x2="582.25" y2="155.85" stroke="#6e6e6e" stroke-width="0.7"/>
<line x1="583.94" y1="157.25" x2="583.94" y2="155.85" stroke="#6e6e6e" stroke-width="0.7"/>
<line x1="585.26" y1="157.25" x2="585.26" y2="155.85" stroke="#6e6e6e" stroke-width="0.7"/>
<line x1="586.33" y1="157.25" x2="586.33" y2="155.85" stroke="#6e6e6e" stroke-width="0.7"/>
<line x1="587.24" y1="157.25" x2="587.24" y2="155.85" stroke="#6e6e6e" stroke-width="0.7"/>
<line x1="588.03" y1="157.25" x2="588.03" y2="155.85" stroke="#6e6e6e" stroke-width="0.7"/>
<line x1="588.72" y1="157.25" x2="588.72" y2="155.85" stroke="#6e6e6e" stroke-width="0.7"/>
<line x1="589.34" y1="157.25" x2="589.34" y2="154.85" stroke="#6e6e6e" stroke-width="1"/>
<text x="588.74" y="168.50" font-size="8.5" text-anchor="middle" fill="#1a1a1a">10<tspan dy="-3.83" font-size="5.78">9</tspan></text>
<line x1="593.42" y1="157.25" x2="593.42" y2="155.85" stroke="#6e6e6e" stroke-width="0.7"/>
<line x1="595.81" y1="157.25" x2="595.81" y2="155.85" stroke="#6e6e6e" stroke-width="0.7"/>
<line x1="597.50" y1="157.25" x2="597.50" y2="155.85" stroke="#6e6e6e" stroke-width="0.7"/>
<line x1="598.82" y1="157.25" x2="598.82" y2="155.85" stroke="#6e6e6e" stroke-width="0.7"/>
<line x1="599.89" y1="157.25" x2="599.89" y2="155.85" stroke="#6e6e6e" stroke-width="0.7"/>
<line x1="600.80" y1="157.25" x2="600.80" y2="155.85" stroke="#6e6e6e" stroke-width="0.7"/>
<line x1="601.59" y1="157.25" x2="601.59" y2="155.85" stroke="#6e6e6e" stroke-width="0.7"/>
<line x1="602.28" y1="157.25" x2="602.28" y2="155.85" stroke="#6e6e6e" stroke-width="0.7"/>
<line x1="602.90" y1="157.25" x2="602.90" y2="154.85" stroke="#6e6e6e" stroke-width="1"/>
<line x1="606.98" y1="157.25" x2="606.98" y2="155.85" stroke="#6e6e6e" stroke-width="0.7"/>
<line x1="609.37" y1="157.25" x2="609.37" y2="155.85" stroke="#6e6e6e" stroke-width="0.7"/>
<line x1="611.06" y1="157.25" x2="611.06" y2="155.85" stroke="#6e6e6e" stroke-width="0.7"/>
<line x1="612.38" y1="157.25" x2="612.38" y2="155.85" stroke="#6e6e6e" stroke-width="0.7"/>
<line x1="613.45" y1="157.25" x2="613.45" y2="155.85" stroke="#6e6e6e" stroke-width="0.7"/>
<line x1="614.36" y1="157.25" x2="614.36" y2="155.85" stroke="#6e6e6e" stroke-width="0.7"/>
<line x1="615.15" y1="157.25" x2="615.15" y2="155.85" stroke="#6e6e6e" stroke-width="0.7"/>
<line x1="615.84" y1="157.25" x2="615.84" y2="155.85" stroke="#6e6e6e" stroke-width="0.7"/>
<line x1="616.46" y1="157.25" x2="616.46" y2="154.85" stroke="#6e6e6e" stroke-width="1"/>
<text x="615.86" y="168.50" font-size="8.5" text-anchor="middle" fill="#1a1a1a">10<tspan dy="-3.83" font-size="5.78">11</tspan></text>
<line x1="620.54" y1="157.25" x2="620.54" y2="155.85" stroke="#6e6e6e" stroke-width="0.7"/>
<line x1="622.93" y1="157.25" x2="622.93" y2="155.85" stroke="#6e6e6e" stroke-width="0.7"/>
<line x1="624.62" y1="157.25" x2="624.62" y2="155.85" stroke="#6e6e6e" stroke-width="0.7"/>
<line x1="625.94" y1="157.25" x2="625.94" y2="155.85" stroke="#6e6e6e" stroke-width="0.7"/>
<line x1="627.01" y1="157.25" x2="627.01" y2="155.85" stroke="#6e6e6e" stroke-width="0.7"/>
<line x1="627.92" y1="157.25" x2="627.92" y2="155.85" stroke="#6e6e6e" stroke-width="0.7"/>
<line x1="628.71" y1="157.25" x2="628.71" y2="155.85" stroke="#6e6e6e" stroke-width="0.7"/>
<line x1="629.40" y1="157.25" x2="629.40" y2="155.85" stroke="#6e6e6e" stroke-width="0.7"/>
<line x1="630.02" y1="157.25" x2="630.02" y2="154.85" stroke="#6e6e6e" stroke-width="1"/>
<line x1="634.10" y1="157.25" x2="634.10" y2="155.85" stroke="#6e6e6e" stroke-width="0.7"/>
<line x1="636.49" y1="157.25" x2="636.49" y2="155.85" stroke="#6e6e6e" stroke-width="0.7"/>
<line x1="638.18" y1="157.25" x2="638.18" y2="155.85" stroke="#6e6e6e" stroke-width="0.7"/>
<line x1="639.50" y1="157.25" x2="639.50" y2="155.85" stroke="#6e6e6e" stroke-width="0.7"/>
<rect x="457.40" y="10.30" width="183.00" height="146.95" fill="none" stroke="#6e6e6e" stroke-width="1"/>
<line x1="588.90" y1="10.30" x2="588.90" y2="157.25" stroke="#666" stroke-width="0.8" stroke-dasharray="2.4,1.8"/>
<line x1="457.40" y1="59.40" x2="643.00" y2="59.40" stroke="#666" stroke-width="0.8" stroke-dasharray="2.4,1.8"/>
<polygon points="466.80,63.56 463.30,69.62 470.30,69.62" fill="#50c088"/>
<polygon points="466.80,68.86 463.30,74.92 470.30,74.92" fill="#50c088"/>
<polygon points="466.80,85.56 463.30,91.62 470.30,91.62" fill="#50c088"/>
<polygon points="517.50,34.76 514.00,40.82 521.00,40.82" fill="#50c088"/>
<polygon points="521.20,119.46 517.70,125.52 524.70,125.52" fill="#50c088"/>
<polygon points="521.20,131.06 517.70,137.12 524.70,137.12" fill="#50c088"/>
<polygon points="535.10,136.26 531.60,142.32 538.60,142.32" fill="#50c088"/>
<polygon points="535.20,69.26 531.70,75.32 538.70,75.32" fill="#50c088"/>
<polygon points="548.70,69.26 545.20,75.32 552.20,75.32" fill="#50c088"/>
<polygon points="521.20,103.46 517.70,109.52 524.70,109.52" fill="#50c088"/>
<polygon points="466.80,60.04 463.30,53.98 470.30,53.98" fill="#9090cc"/>
<polygon points="521.20,101.04 517.70,94.98 524.70,94.98" fill="#9090cc"/>
<polygon points="533.70,101.04 530.20,94.98 537.20,94.98" fill="#9090cc"/>
<polygon points="530.80,111.24 527.30,105.18 534.30,105.18" fill="#9090cc"/>
<polygon points="535.40,111.24 531.90,105.18 538.90,105.18" fill="#9090cc"/>
<polygon points="549.00,60.34 545.50,54.28 552.50,54.28" fill="#9090cc"/>
<polygon points="572.90,60.34 569.40,54.28 576.40,54.28" fill="#9090cc"/>
<polygon points="583.30,43.14 579.80,37.08 586.80,37.08" fill="#9090cc"/>
<polygon points="535.20,76.54 531.70,70.48 538.70,70.48" fill="#9090cc"/>
<polygon points="548.70,76.54 545.20,70.48 552.20,70.48" fill="#9090cc"/>
<polygon points="558.90,77.24 555.40,71.18 562.40,71.18" fill="#9090cc"/>
<polygon points="562.30,77.24 558.80,71.18 565.80,71.18" fill="#9090cc"/>
<polygon points="535.20,94.14 531.70,88.08 538.70,88.08" fill="#9090cc"/>
<polygon points="548.70,94.14 545.20,88.08 552.20,88.08" fill="#9090cc"/>
<polygon points="576.50,94.14 573.00,88.08 580.00,88.08" fill="#9090cc"/>
<polygon points="521.20,110.74 517.70,104.68 524.70,104.68" fill="#9090cc"/>
<polygon points="507.80,144.84 504.30,138.78 511.30,138.78" fill="#9090cc"/>
<rect x="463.0" y="37.0" width="62.8" height="106.3" rx="4.5" fill="#3fb07a" fill-opacity="0.27"/>
<text x="463.10" y="142.50" font-size="7.3" font-weight="normal" font-style="normal" text-anchor="start" fill="#1a1a1a">Pt/FE/LSMO</text>
<text x="559.00" y="137.30" font-size="7.6" font-weight="normal" font-style="normal" text-anchor="start" fill="#1a1a1a">M/FE/M</text>
<polygon points="617.00,13.40 619.20,19.28 625.46,19.55 620.56,23.46 622.23,29.50 617.00,26.04 611.77,29.50 613.44,23.46 608.54,19.55 614.80,19.28" fill="#ff1010"/>
<polygon points="593.60,44.90 595.18,49.13 599.69,49.32 596.16,52.13 597.36,56.48 593.60,53.99 589.84,56.48 591.04,52.13 587.51,49.32 592.02,49.13" fill="#ff1010"/>
<text x="473.9" y="18.7" font-size="8.6" font-weight="bold" fill="#111">This work <tspan fill="#ff1a1a">LSMO/CeO<tspan dy="2.15" font-size="5.68">2-x</tspan><tspan dy="-2.15" font-size="8.6">&#8203;</tspan> capping</tspan></text>
<text x="588.60" y="68.00" font-size="8.6" font-weight="bold" font-style="normal" text-anchor="start" fill="#111">This work</text>
<text x="640.6" y="75.7" font-size="8.6" font-weight="bold" fill="#ff1a1a" text-anchor="end">CeO<tspan dy="2.15" font-size="5.68">2-x</tspan><tspan dy="-2.15" font-size="8.6">&#8203;</tspan> capping</text>
<text x="439.30" y="84.20" font-size="10.9" font-weight="normal" font-style="normal" text-anchor="middle" fill="#1a1a1a" transform="rotate(-90 439.30 84.20)">Endurance</text>
<text x="547.30" y="177.40" font-size="11.2" font-weight="normal" font-style="normal" text-anchor="middle" fill="#1a1a1a">Start to fatigue</text>
<text x="0.00" y="206.50" font-size="14" font-weight="bold" font-style="normal" text-anchor="start" fill="#000">d</text>
<line x1="29.60" y1="326.70" x2="32.60" y2="326.70" stroke="#6e6e6e" stroke-width="1"/>
<text x="26.40" y="329.70" font-size="8.5" font-weight="normal" font-style="normal" text-anchor="end" fill="#1a1a1a">-1.0</text>
<line x1="29.60" y1="302.57" x2="32.60" y2="302.57" stroke="#6e6e6e" stroke-width="1"/>
<text x="26.40" y="305.57" font-size="8.5" font-weight="normal" font-style="normal" text-anchor="end" fill="#1a1a1a">-0.5</text>
<line x1="29.60" y1="278.45" x2="32.60" y2="278.45" stroke="#6e6e6e" stroke-width="1"/>
<text x="26.40" y="281.45" font-size="8.5" font-weight="normal" font-style="normal" text-anchor="end" fill="#1a1a1a">0.0</text>
<line x1="29.60" y1="254.32" x2="32.60" y2="254.32" stroke="#6e6e6e" stroke-width="1"/>
<text x="26.40" y="257.32" font-size="8.5" font-weight="normal" font-style="normal" text-anchor="end" fill="#1a1a1a">0.5</text>
<line x1="29.60" y1="230.20" x2="32.60" y2="230.20" stroke="#6e6e6e" stroke-width="1"/>
<text x="26.40" y="233.20" font-size="8.5" font-weight="normal" font-style="normal" text-anchor="end" fill="#1a1a1a">1.0</text>
<line x1="38.00" y1="351.50" x2="38.00" y2="349.50" stroke="#6e6e6e" stroke-width="1"/>
<line x1="43.09" y1="351.50" x2="43.09" y2="350.20" stroke="#6e6e6e" stroke-width="0.7"/>
<line x1="46.06" y1="351.50" x2="46.06" y2="350.20" stroke="#6e6e6e" stroke-width="0.7"/>
<line x1="48.17" y1="351.50" x2="48.17" y2="350.20" stroke="#6e6e6e" stroke-width="0.7"/>
<line x1="49.81" y1="351.50" x2="49.81" y2="350.20" stroke="#6e6e6e" stroke-width="0.7"/>
<line x1="51.15" y1="351.50" x2="51.15" y2="350.20" stroke="#6e6e6e" stroke-width="0.7"/>
<line x1="52.28" y1="351.50" x2="52.28" y2="350.20" stroke="#6e6e6e" stroke-width="0.7"/>
<line x1="53.26" y1="351.50" x2="53.26" y2="350.20" stroke="#6e6e6e" stroke-width="0.7"/>
<line x1="54.13" y1="351.50" x2="54.13" y2="350.20" stroke="#6e6e6e" stroke-width="0.7"/>
<line x1="54.90" y1="351.50" x2="54.90" y2="348.50" stroke="#6e6e6e" stroke-width="1"/>
<text x="55.30" y="361.80" font-size="8.3" text-anchor="middle" fill="#1a1a1a">10<tspan dy="-3.74" font-size="5.98">0</tspan></text>
<line x1="59.99" y1="351.50" x2="59.99" y2="350.20" stroke="#6e6e6e" stroke-width="0.7"/>
<line x1="62.96" y1="351.50" x2="62.96" y2="350.20" stroke="#6e6e6e" stroke-width="0.7"/>
<line x1="65.07" y1="351.50" x2="65.07" y2="350.20" stroke="#6e6e6e" stroke-width="0.7"/>
<line x1="66.71" y1="351.50" x2="66.71" y2="350.20" stroke="#6e6e6e" stroke-width="0.7"/>
<line x1="68.05" y1="351.50" x2="68.05" y2="350.20" stroke="#6e6e6e" stroke-width="0.7"/>
<line x1="69.18" y1="351.50" x2="69.18" y2="350.20" stroke="#6e6e6e" stroke-width="0.7"/>
<line x1="70.16" y1="351.50" x2="70.16" y2="350.20" stroke="#6e6e6e" stroke-width="0.7"/>
<line x1="71.03" y1="351.50" x2="71.03" y2="350.20" stroke="#6e6e6e" stroke-width="0.7"/>
<line x1="71.80" y1="351.50" x2="71.80" y2="349.50" stroke="#6e6e6e" stroke-width="1"/>
<line x1="76.89" y1="351.50" x2="76.89" y2="350.20" stroke="#6e6e6e" stroke-width="0.7"/>
<line x1="79.86" y1="351.50" x2="79.86" y2="350.20" stroke="#6e6e6e" stroke-width="0.7"/>
<line x1="81.97" y1="351.50" x2="81.97" y2="350.20" stroke="#6e6e6e" stroke-width="0.7"/>
<line x1="83.61" y1="351.50" x2="83.61" y2="350.20" stroke="#6e6e6e" stroke-width="0.7"/>
<line x1="84.95" y1="351.50" x2="84.95" y2="350.20" stroke="#6e6e6e" stroke-width="0.7"/>
<line x1="86.08" y1="351.50" x2="86.08" y2="350.20" stroke="#6e6e6e" stroke-width="0.7"/>
<line x1="87.06" y1="351.50" x2="87.06" y2="350.20" stroke="#6e6e6e" stroke-width="0.7"/>
<line x1="87.93" y1="351.50" x2="87.93" y2="350.20" stroke="#6e6e6e" stroke-width="0.7"/>
<line x1="88.70" y1="351.50" x2="88.70" y2="348.50" stroke="#6e6e6e" stroke-width="1"/>
<text x="89.10" y="361.80" font-size="8.3" text-anchor="middle" fill="#1a1a1a">10<tspan dy="-3.74" font-size="5.98">2</tspan></text>
<line x1="93.79" y1="351.50" x2="93.79" y2="350.20" stroke="#6e6e6e" stroke-width="0.7"/>
<line x1="96.76" y1="351.50" x2="96.76" y2="350.20" stroke="#6e6e6e" stroke-width="0.7"/>
<line x1="98.87" y1="351.50" x2="98.87" y2="350.20" stroke="#6e6e6e" stroke-width="0.7"/>
<line x1="100.51" y1="351.50" x2="100.51" y2="350.20" stroke="#6e6e6e" stroke-width="0.7"/>
<line x1="101.85" y1="351.50" x2="101.85" y2="350.20" stroke="#6e6e6e" stroke-width="0.7"/>
<line x1="102.98" y1="351.50" x2="102.98" y2="350.20" stroke="#6e6e6e" stroke-width="0.7"/>
<line x1="103.96" y1="351.50" x2="103.96" y2="350.20" stroke="#6e6e6e" stroke-width="0.7"/>
<line x1="104.83" y1="351.50" x2="104.83" y2="350.20" stroke="#6e6e6e" stroke-width="0.7"/>
<line x1="105.60" y1="351.50" x2="105.60" y2="349.50" stroke="#6e6e6e" stroke-width="1"/>
<line x1="110.69" y1="351.50" x2="110.69" y2="350.20" stroke="#6e6e6e" stroke-width="0.7"/>
<line x1="113.66" y1="351.50" x2="113.66" y2="350.20" stroke="#6e6e6e" stroke-width="0.7"/>
<line x1="115.77" y1="351.50" x2="115.77" y2="350.20" stroke="#6e6e6e" stroke-width="0.7"/>
<line x1="117.41" y1="351.50" x2="117.41" y2="350.20" stroke="#6e6e6e" stroke-width="0.7"/>
<line x1="118.75" y1="351.50" x2="118.75" y2="350.20" stroke="#6e6e6e" stroke-width="0.7"/>
<line x1="119.88" y1="351.50" x2="119.88" y2="350.20" stroke="#6e6e6e" stroke-width="0.7"/>
<line x1="120.86" y1="351.50" x2="120.86" y2="350.20" stroke="#6e6e6e" stroke-width="0.7"/>
<line x1="121.73" y1="351.50" x2="121.73" y2="350.20" stroke="#6e6e6e" stroke-width="0.7"/>
<line x1="122.50" y1="351.50" x2="122.50" y2="348.50" stroke="#6e6e6e" stroke-width="1"/>
<text x="122.90" y="361.80" font-size="8.3" text-anchor="middle" fill="#1a1a1a">10<tspan dy="-3.74" font-size="5.98">4</tspan></text>
<line x1="127.59" y1="351.50" x2="127.59" y2="350.20" stroke="#6e6e6e" stroke-width="0.7"/>
<line x1="130.56" y1="351.50" x2="130.56" y2="350.20" stroke="#6e6e6e" stroke-width="0.7"/>
<line x1="132.67" y1="351.50" x2="132.67" y2="350.20" stroke="#6e6e6e" stroke-width="0.7"/>
<line x1="134.31" y1="351.50" x2="134.31" y2="350.20" stroke="#6e6e6e" stroke-width="0.7"/>
<line x1="135.65" y1="351.50" x2="135.65" y2="350.20" stroke="#6e6e6e" stroke-width="0.7"/>
<line x1="136.78" y1="351.50" x2="136.78" y2="350.20" stroke="#6e6e6e" stroke-width="0.7"/>
<line x1="137.76" y1="351.50" x2="137.76" y2="350.20" stroke="#6e6e6e" stroke-width="0.7"/>
<line x1="138.63" y1="351.50" x2="138.63" y2="350.20" stroke="#6e6e6e" stroke-width="0.7"/>
<line x1="139.40" y1="351.50" x2="139.40" y2="349.50" stroke="#6e6e6e" stroke-width="1"/>
<line x1="144.49" y1="351.50" x2="144.49" y2="350.20" stroke="#6e6e6e" stroke-width="0.7"/>
<line x1="147.46" y1="351.50" x2="147.46" y2="350.20" stroke="#6e6e6e" stroke-width="0.7"/>
<line x1="149.57" y1="351.50" x2="149.57" y2="350.20" stroke="#6e6e6e" stroke-width="0.7"/>
<line x1="151.21" y1="351.50" x2="151.21" y2="350.20" stroke="#6e6e6e" stroke-width="0.7"/>
<line x1="152.55" y1="351.50" x2="152.55" y2="350.20" stroke="#6e6e6e" stroke-width="0.7"/>
<line x1="153.68" y1="351.50" x2="153.68" y2="350.20" stroke="#6e6e6e" stroke-width="0.7"/>
<line x1="154.66" y1="351.50" x2="154.66" y2="350.20" stroke="#6e6e6e" stroke-width="0.7"/>
<line x1="155.53" y1="351.50" x2="155.53" y2="350.20" stroke="#6e6e6e" stroke-width="0.7"/>
<line x1="156.30" y1="351.50" x2="156.30" y2="348.50" stroke="#6e6e6e" stroke-width="1"/>
<text x="156.70" y="361.80" font-size="8.3" text-anchor="middle" fill="#1a1a1a">10<tspan dy="-3.74" font-size="5.98">6</tspan></text>
<line x1="161.39" y1="351.50" x2="161.39" y2="350.20" stroke="#6e6e6e" stroke-width="0.7"/>
<line x1="164.36" y1="351.50" x2="164.36" y2="350.20" stroke="#6e6e6e" stroke-width="0.7"/>
<line x1="166.47" y1="351.50" x2="166.47" y2="350.20" stroke="#6e6e6e" stroke-width="0.7"/>
<line x1="168.11" y1="351.50" x2="168.11" y2="350.20" stroke="#6e6e6e" stroke-width="0.7"/>
<line x1="169.45" y1="351.50" x2="169.45" y2="350.20" stroke="#6e6e6e" stroke-width="0.7"/>
<line x1="170.58" y1="351.50" x2="170.58" y2="350.20" stroke="#6e6e6e" stroke-width="0.7"/>
<line x1="171.56" y1="351.50" x2="171.56" y2="350.20" stroke="#6e6e6e" stroke-width="0.7"/>
<line x1="172.43" y1="351.50" x2="172.43" y2="350.20" stroke="#6e6e6e" stroke-width="0.7"/>
<line x1="173.20" y1="351.50" x2="173.20" y2="349.50" stroke="#6e6e6e" stroke-width="1"/>
<line x1="178.29" y1="351.50" x2="178.29" y2="350.20" stroke="#6e6e6e" stroke-width="0.7"/>
<line x1="181.26" y1="351.50" x2="181.26" y2="350.20" stroke="#6e6e6e" stroke-width="0.7"/>
<line x1="183.37" y1="351.50" x2="183.37" y2="350.20" stroke="#6e6e6e" stroke-width="0.7"/>
<line x1="185.01" y1="351.50" x2="185.01" y2="350.20" stroke="#6e6e6e" stroke-width="0.7"/>
<line x1="186.35" y1="351.50" x2="186.35" y2="350.20" stroke="#6e6e6e" stroke-width="0.7"/>
<line x1="187.48" y1="351.50" x2="187.48" y2="350.20" stroke="#6e6e6e" stroke-width="0.7"/>
<line x1="188.46" y1="351.50" x2="188.46" y2="350.20" stroke="#6e6e6e" stroke-width="0.7"/>
<line x1="189.33" y1="351.50" x2="189.33" y2="350.20" stroke="#6e6e6e" stroke-width="0.7"/>
<line x1="190.10" y1="351.50" x2="190.10" y2="348.50" stroke="#6e6e6e" stroke-width="1"/>
<text x="190.50" y="361.80" font-size="8.3" text-anchor="middle" fill="#1a1a1a">10<tspan dy="-3.74" font-size="5.98">8</tspan></text>
<line x1="195.19" y1="351.50" x2="195.19" y2="350.20" stroke="#6e6e6e" stroke-width="0.7"/>
<line x1="198.16" y1="351.50" x2="198.16" y2="350.20" stroke="#6e6e6e" stroke-width="0.7"/>
<line x1="200.27" y1="351.50" x2="200.27" y2="350.20" stroke="#6e6e6e" stroke-width="0.7"/>
<line x1="201.91" y1="351.50" x2="201.91" y2="350.20" stroke="#6e6e6e" stroke-width="0.7"/>
<line x1="203.25" y1="351.50" x2="203.25" y2="350.20" stroke="#6e6e6e" stroke-width="0.7"/>
<line x1="204.38" y1="351.50" x2="204.38" y2="350.20" stroke="#6e6e6e" stroke-width="0.7"/>
<line x1="205.36" y1="351.50" x2="205.36" y2="350.20" stroke="#6e6e6e" stroke-width="0.7"/>
<line x1="206.23" y1="351.50" x2="206.23" y2="350.20" stroke="#6e6e6e" stroke-width="0.7"/>
<rect x="29.60" y="206.75" width="177.10" height="144.75" fill="none" stroke="#6e6e6e" stroke-width="1"/>
<text x="31.60" y="217.00" font-size="9.8" font-weight="normal" font-style="normal" text-anchor="start" fill="#1a1a1a">The same state retention bahavior</text>
<text x="32.40" y="345.70" font-size="9.85" font-weight="normal" font-style="normal" text-anchor="start" fill="#1a1a1a">Measured at 358 K</text>
<text x="197.30" y="345.70" font-size="9.5" font-weight="normal" font-style="normal" text-anchor="end" fill="#1a1a1a">10 years</text>
<line x1="199.70" y1="206.75" x2="199.70" y2="351.50" stroke="#333" stroke-width="1.1" stroke-dasharray="3.6,2.4"/>
<polyline points="122.50,257.50 184.2,278.2 122.50,301.90" fill="none" stroke="#6fd4da" stroke-width="1.1" stroke-dasharray="5.2,1.8,1.4,1.8"/>
<circle cx="38.0" cy="230.5" r="3.6" fill="url(#gr)"/>
<circle cx="38.0" cy="231.0" r="3.6" fill="url(#gb)"/>
<circle cx="38.0" cy="230.8" r="3.0" fill="url(#gc)" fill-opacity="0.9"/>
<circle cx="38.0" cy="326.9" r="3.6" fill="url(#gr)"/>
<circle cx="38.0" cy="327.4" r="3.6" fill="url(#gb)"/>
<circle cx="38.0" cy="327.2" r="3.0" fill="url(#gc)" fill-opacity="0.9"/>
<circle cx="54.90" cy="234.60" r="3.6" fill="url(#gc)"/>
<circle cx="54.90" cy="322.30" r="3.6" fill="url(#gc)"/>
<circle cx="54.90" cy="230.9" r="3.6" fill="url(#gb)"/>
<circle cx="54.90" cy="326.0" r="3.6" fill="url(#gb)"/>
<circle cx="54.90" cy="230.2" r="3.3000000000000003" fill="url(#gr)"/>
<circle cx="54.90" cy="326.7" r="3.3000000000000003" fill="url(#gr)"/>
<circle cx="63.35" cy="238.20" r="3.6" fill="url(#gc)"/>
<circle cx="63.35" cy="320.30" r="3.6" fill="url(#gc)"/>
<circle cx="63.35" cy="230.9" r="3.6" fill="url(#gb)"/>
<circle cx="63.35" cy="326.0" r="3.6" fill="url(#gb)"/>
<circle cx="63.35" cy="230.2" r="3.3000000000000003" fill="url(#gr)"/>
<circle cx="63.35" cy="326.7" r="3.3000000000000003" fill="url(#gr)"/>
<circle cx="71.80" cy="239.70" r="3.6" fill="url(#gc)"/>
<circle cx="71.80" cy="318.50" r="3.6" fill="url(#gc)"/>
<circle cx="71.80" cy="230.9" r="3.6" fill="url(#gb)"/>
<circle cx="71.80" cy="326.0" r="3.6" fill="url(#gb)"/>
<circle cx="71.80" cy="230.2" r="3.3000000000000003" fill="url(#gr)"/>
<circle cx="71.80" cy="326.7" r="3.3000000000000003" fill="url(#gr)"/>
<circle cx="80.25" cy="241.20" r="3.6" fill="url(#gc)"/>
<circle cx="80.25" cy="316.50" r="3.6" fill="url(#gc)"/>
<circle cx="80.25" cy="230.9" r="3.6" fill="url(#gb)"/>
<circle cx="80.25" cy="326.0" r="3.6" fill="url(#gb)"/>
<circle cx="80.25" cy="230.2" r="3.3000000000000003" fill="url(#gr)"/>
<circle cx="80.25" cy="326.7" r="3.3000000000000003" fill="url(#gr)"/>
<circle cx="88.70" cy="244.10" r="3.6" fill="url(#gc)"/>
<circle cx="88.70" cy="314.50" r="3.6" fill="url(#gc)"/>
<circle cx="88.70" cy="230.9" r="3.6" fill="url(#gb)"/>
<circle cx="88.70" cy="326.0" r="3.6" fill="url(#gb)"/>
<circle cx="88.70" cy="230.2" r="3.3000000000000003" fill="url(#gr)"/>
<circle cx="88.70" cy="326.7" r="3.3000000000000003" fill="url(#gr)"/>
<circle cx="97.15" cy="246.30" r="3.6" fill="url(#gc)"/>
<circle cx="97.15" cy="311.50" r="3.6" fill="url(#gc)"/>
<circle cx="97.15" cy="230.9" r="3.6" fill="url(#gb)"/>
<circle cx="97.15" cy="326.0" r="3.6" fill="url(#gb)"/>
<circle cx="97.15" cy="230.2" r="3.3000000000000003" fill="url(#gr)"/>
<circle cx="97.15" cy="326.7" r="3.3000000000000003" fill="url(#gr)"/>
<circle cx="105.60" cy="250.70" r="3.6" fill="url(#gc)"/>
<circle cx="105.60" cy="308.60" r="3.6" fill="url(#gc)"/>
<circle cx="105.60" cy="230.9" r="3.6" fill="url(#gb)"/>
<circle cx="105.60" cy="326.0" r="3.6" fill="url(#gb)"/>
<circle cx="105.60" cy="230.2" r="3.3000000000000003" fill="url(#gr)"/>
<circle cx="105.60" cy="326.7" r="3.3000000000000003" fill="url(#gr)"/>
<circle cx="114.05" cy="252.80" r="3.6" fill="url(#gc)"/>
<circle cx="114.05" cy="305.70" r="3.6" fill="url(#gc)"/>
<circle cx="114.05" cy="230.9" r="3.6" fill="url(#gb)"/>
<circle cx="114.05" cy="326.0" r="3.6" fill="url(#gb)"/>
<circle cx="114.05" cy="230.2" r="3.3000000000000003" fill="url(#gr)"/>
<circle cx="114.05" cy="326.7" r="3.3000000000000003" fill="url(#gr)"/>
<circle cx="122.50" cy="257.50" r="3.6" fill="url(#gc)"/>
<circle cx="122.50" cy="301.90" r="3.6" fill="url(#gc)"/>
<circle cx="122.50" cy="230.9" r="3.6" fill="url(#gb)"/>
<circle cx="122.50" cy="326.0" r="3.6" fill="url(#gb)"/>
<circle cx="122.50" cy="230.2" r="3.3000000000000003" fill="url(#gr)"/>
<circle cx="122.50" cy="326.7" r="3.3000000000000003" fill="url(#gr)"/>
<line x1="29.60" y1="232.00" x2="206.70" y2="232.00" stroke="#8aa0d8" stroke-width="1.2" stroke-dasharray="5.2,1.8,1.4,1.8"/>
<line x1="29.60" y1="325.20" x2="206.70" y2="325.20" stroke="#8aa0d8" stroke-width="1.2" stroke-dasharray="5.2,1.8,1.4,1.8"/>
<line x1="29.60" y1="229.90" x2="206.70" y2="229.90" stroke="#ff3040" stroke-width="1.2" stroke-dasharray="5.2,1.8,1.4,1.8"/>
<line x1="29.60" y1="327.30" x2="206.70" y2="327.30" stroke="#ff3040" stroke-width="1.2" stroke-dasharray="5.2,1.8,1.4,1.8"/>
<circle cx="44.6" cy="262.80" r="3.6" fill="url(#gc)"/>
<circle cx="44.6" cy="272.55" r="3.6" fill="url(#gb)"/>
<circle cx="44.6" cy="282.30" r="3.6" fill="url(#gr)"/>
<text x="54.30" y="266.00" font-size="8.7" font-weight="bold" font-style="normal" text-anchor="start" fill="#111">Bare HZO</text>
<text x="54.3" y="275.6" font-size="8.7" font-weight="bold" fill="#111">CeO<tspan dy="2.17" font-size="5.74">2-x</tspan><tspan dy="-2.17" font-size="8.7">&#8203;</tspan> capping</text>
<text x="54.3" y="285.5" font-size="8.7" font-weight="bold" fill="#111">LSMO/CeO<tspan dy="2.17" font-size="5.74">2-x</tspan><tspan dy="-2.17" font-size="8.7">&#8203;</tspan> capping</text>
<text x="10.6" y="277.4" font-size="12" font-style="italic" text-anchor="middle" fill="#1a1a1a" transform="rotate(-90 10.6 277.4)">Norm. P<tspan dy="3.00" font-size="7.92">sw</tspan><tspan dy="-3.00" font-size="12">&#8203;</tspan></text>
<text x="115.90" y="372.80" font-size="11.3" font-weight="normal" font-style="normal" text-anchor="middle" fill="#1a1a1a">Baking time (s)</text>
<text x="214.50" y="206.50" font-size="14" font-weight="bold" font-style="normal" text-anchor="start" fill="#000">e</text>
<line x1="240.60" y1="351.10" x2="243.60" y2="351.10" stroke="#6e6e6e" stroke-width="1"/>
<text x="237.60" y="354.10" font-size="8.5" font-weight="normal" font-style="normal" text-anchor="end" fill="#1a1a1a">10</text>
<line x1="240.60" y1="331.89" x2="243.60" y2="331.89" stroke="#6e6e6e" stroke-width="1"/>
<text x="237.60" y="334.89" font-size="8.5" font-weight="normal" font-style="normal" text-anchor="end" fill="#1a1a1a">15</text>
<line x1="240.60" y1="312.67" x2="243.60" y2="312.67" stroke="#6e6e6e" stroke-width="1"/>
<text x="237.60" y="315.67" font-size="8.5" font-weight="normal" font-style="normal" text-anchor="end" fill="#1a1a1a">20</text>
<line x1="240.60" y1="293.46" x2="243.60" y2="293.46" stroke="#6e6e6e" stroke-width="1"/>
<text x="237.60" y="296.46" font-size="8.5" font-weight="normal" font-style="normal" text-anchor="end" fill="#1a1a1a">25</text>
<line x1="240.60" y1="274.24" x2="243.60" y2="274.24" stroke="#6e6e6e" stroke-width="1"/>
<text x="237.60" y="277.24" font-size="8.5" font-weight="normal" font-style="normal" text-anchor="end" fill="#1a1a1a">30</text>
<line x1="240.60" y1="255.03" x2="243.60" y2="255.03" stroke="#6e6e6e" stroke-width="1"/>
<text x="237.60" y="258.03" font-size="8.5" font-weight="normal" font-style="normal" text-anchor="end" fill="#1a1a1a">35</text>
<line x1="240.60" y1="235.81" x2="243.60" y2="235.81" stroke="#6e6e6e" stroke-width="1"/>
<text x="237.60" y="238.81" font-size="8.5" font-weight="normal" font-style="normal" text-anchor="end" fill="#1a1a1a">40</text>
<line x1="240.60" y1="216.60" x2="243.60" y2="216.60" stroke="#6e6e6e" stroke-width="1"/>
<text x="237.60" y="219.60" font-size="8.5" font-weight="normal" font-style="normal" text-anchor="end" fill="#1a1a1a">45</text>
<line x1="240.60" y1="341.49" x2="242.20" y2="341.49" stroke="#6e6e6e" stroke-width="1"/>
<line x1="240.60" y1="322.28" x2="242.20" y2="322.28" stroke="#6e6e6e" stroke-width="1"/>
<line x1="240.60" y1="303.06" x2="242.20" y2="303.06" stroke="#6e6e6e" stroke-width="1"/>
<line x1="240.60" y1="283.85" x2="242.20" y2="283.85" stroke="#6e6e6e" stroke-width="1"/>
<line x1="240.60" y1="264.63" x2="242.20" y2="264.63" stroke="#6e6e6e" stroke-width="1"/>
<line x1="240.60" y1="245.42" x2="242.20" y2="245.42" stroke="#6e6e6e" stroke-width="1"/>
<line x1="240.60" y1="226.20" x2="242.20" y2="226.20" stroke="#6e6e6e" stroke-width="1"/>
<line x1="241.10" y1="351.10" x2="241.10" y2="348.10" stroke="#6e6e6e" stroke-width="1"/>
<text x="241.10" y="360.60" font-size="8.5" font-weight="normal" font-style="normal" text-anchor="middle" fill="#1a1a1a">50</text>
<line x1="260.85" y1="351.10" x2="260.85" y2="348.10" stroke="#6e6e6e" stroke-width="1"/>
<text x="260.85" y="360.60" font-size="8.5" font-weight="normal" font-style="normal" text-anchor="middle" fill="#1a1a1a">100</text>
<line x1="280.60" y1="351.10" x2="280.60" y2="348.10" stroke="#6e6e6e" stroke-width="1"/>
<text x="280.60" y="360.60" font-size="8.5" font-weight="normal" font-style="normal" text-anchor="middle" fill="#1a1a1a">150</text>
<line x1="300.35" y1="351.10" x2="300.35" y2="348.10" stroke="#6e6e6e" stroke-width="1"/>
<text x="300.35" y="360.60" font-size="8.5" font-weight="normal" font-style="normal" text-anchor="middle" fill="#1a1a1a">200</text>
<line x1="320.10" y1="351.10" x2="320.10" y2="348.10" stroke="#6e6e6e" stroke-width="1"/>
<text x="320.10" y="360.60" font-size="8.5" font-weight="normal" font-style="normal" text-anchor="middle" fill="#1a1a1a">250</text>
<line x1="339.85" y1="351.10" x2="339.85" y2="348.10" stroke="#6e6e6e" stroke-width="1"/>
<text x="339.85" y="360.60" font-size="8.5" font-weight="normal" font-style="normal" text-anchor="middle" fill="#1a1a1a">300</text>
<line x1="359.60" y1="351.10" x2="359.60" y2="348.10" stroke="#6e6e6e" stroke-width="1"/>
<text x="359.60" y="360.60" font-size="8.5" font-weight="normal" font-style="normal" text-anchor="middle" fill="#1a1a1a">350</text>
<line x1="379.35" y1="351.10" x2="379.35" y2="348.10" stroke="#6e6e6e" stroke-width="1"/>
<text x="379.35" y="360.60" font-size="8.5" font-weight="normal" font-style="normal" text-anchor="middle" fill="#1a1a1a">400</text>
<line x1="399.10" y1="351.10" x2="399.10" y2="348.10" stroke="#6e6e6e" stroke-width="1"/>
<text x="399.10" y="360.60" font-size="8.5" font-weight="normal" font-style="normal" text-anchor="middle" fill="#1a1a1a">450</text>
<line x1="418.85" y1="351.10" x2="418.85" y2="348.10" stroke="#6e6e6e" stroke-width="1"/>
<text x="418.85" y="360.60" font-size="8.5" font-weight="normal" font-style="normal" text-anchor="middle" fill="#1a1a1a">500</text>
<line x1="250.97" y1="351.10" x2="250.97" y2="349.50" stroke="#6e6e6e" stroke-width="1"/>
<line x1="270.73" y1="351.10" x2="270.73" y2="349.50" stroke="#6e6e6e" stroke-width="1"/>
<line x1="290.48" y1="351.10" x2="290.48" y2="349.50" stroke="#6e6e6e" stroke-width="1"/>
<line x1="310.23" y1="351.10" x2="310.23" y2="349.50" stroke="#6e6e6e" stroke-width="1"/>
<line x1="329.98" y1="351.10" x2="329.98" y2="349.50" stroke="#6e6e6e" stroke-width="1"/>
<line x1="349.73" y1="351.10" x2="349.73" y2="349.50" stroke="#6e6e6e" stroke-width="1"/>
<line x1="369.48" y1="351.10" x2="369.48" y2="349.50" stroke="#6e6e6e" stroke-width="1"/>
<line x1="389.23" y1="351.10" x2="389.23" y2="349.50" stroke="#6e6e6e" stroke-width="1"/>
<line x1="408.98" y1="351.10" x2="408.98" y2="349.50" stroke="#6e6e6e" stroke-width="1"/>
<rect x="240.60" y="206.40" width="179.15" height="144.70" fill="none" stroke="#6e6e6e" stroke-width="1"/>
<polyline points="250.97,341.11 266.38,337.65 280.60,334.96 294.43,326.50 308.25,326.50 325.24,315.74 339.06,312.67 352.88,319.59 367.11,320.74 380.93,320.74 394.75,331.50 408.98,334.96" fill="none" stroke="#9de0e6" stroke-width="1"/>
<circle cx="250.97" cy="341.11" r="3.4" fill="url(#gec)"/>
<circle cx="266.38" cy="337.65" r="3.4" fill="url(#gec)"/>
<circle cx="280.60" cy="334.96" r="3.4" fill="url(#gec)"/>
<circle cx="294.43" cy="326.50" r="3.4" fill="url(#gec)"/>
<circle cx="308.25" cy="326.50" r="3.4" fill="url(#gec)"/>
<circle cx="325.24" cy="315.74" r="3.4" fill="url(#gec)"/>
<circle cx="339.06" cy="312.67" r="3.4" fill="url(#gec)"/>
<circle cx="352.88" cy="319.59" r="3.4" fill="url(#gec)"/>
<circle cx="367.11" cy="320.74" r="3.4" fill="url(#gec)"/>
<circle cx="380.93" cy="320.74" r="3.4" fill="url(#gec)"/>
<circle cx="394.75" cy="331.50" r="3.4" fill="url(#gec)"/>
<circle cx="408.98" cy="334.96" r="3.4" fill="url(#gec)"/>
<polyline points="250.97,263.48 266.38,257.72 280.60,260.02 294.43,259.64 308.25,250.03 325.24,234.27 339.06,233.50 352.88,243.11 367.11,236.58 380.93,234.66 394.75,243.50 408.98,228.12" fill="none" stroke="#98acd8" stroke-width="1"/>
<circle cx="250.97" cy="263.48" r="3.4" fill="url(#geb)"/>
<circle cx="266.38" cy="257.72" r="3.4" fill="url(#geb)"/>
<circle cx="280.60" cy="260.02" r="3.4" fill="url(#geb)"/>
<circle cx="294.43" cy="259.64" r="3.4" fill="url(#geb)"/>
<circle cx="308.25" cy="250.03" r="3.4" fill="url(#geb)"/>
<circle cx="325.24" cy="234.27" r="3.4" fill="url(#geb)"/>
<circle cx="339.06" cy="233.50" r="3.4" fill="url(#geb)"/>
<circle cx="352.88" cy="243.11" r="3.4" fill="url(#geb)"/>
<circle cx="367.11" cy="236.58" r="3.4" fill="url(#geb)"/>
<circle cx="380.93" cy="234.66" r="3.4" fill="url(#geb)"/>
<circle cx="394.75" cy="243.50" r="3.4" fill="url(#geb)"/>
<circle cx="408.98" cy="228.12" r="3.4" fill="url(#geb)"/>
<polyline points="250.97,234.27 266.38,228.51 280.60,231.58 294.43,228.12 308.25,226.20 325.24,224.67 339.06,225.05 352.88,231.58 367.11,227.74 380.93,221.21 394.75,228.12 408.98,224.28" fill="none" stroke="#f9b4b4" stroke-width="1"/>
<circle cx="250.97" cy="234.27" r="3.4" fill="url(#ger)"/>
<circle cx="266.38" cy="228.51" r="3.4" fill="url(#ger)"/>
<circle cx="280.60" cy="231.58" r="3.4" fill="url(#ger)"/>
<circle cx="294.43" cy="228.12" r="3.4" fill="url(#ger)"/>
<circle cx="308.25" cy="226.20" r="3.4" fill="url(#ger)"/>
<circle cx="325.24" cy="224.67" r="3.4" fill="url(#ger)"/>
<circle cx="339.06" cy="225.05" r="3.4" fill="url(#ger)"/>
<circle cx="352.88" cy="231.58" r="3.4" fill="url(#ger)"/>
<circle cx="367.11" cy="227.74" r="3.4" fill="url(#ger)"/>
<circle cx="380.93" cy="221.21" r="3.4" fill="url(#ger)"/>
<circle cx="394.75" cy="228.12" r="3.4" fill="url(#ger)"/>
<circle cx="408.98" cy="224.28" r="3.4" fill="url(#ger)"/>
<line x1="307.00" y1="270.50" x2="326.30" y2="270.50" stroke="#f7a3a3" stroke-width="1"/>
<circle cx="317" cy="270.50" r="3.3" fill="url(#ger)"/>
<line x1="307.00" y1="283.00" x2="326.30" y2="283.00" stroke="#9fb2da" stroke-width="1"/>
<circle cx="317" cy="283.00" r="3.3" fill="url(#geb)"/>
<line x1="307.00" y1="295.50" x2="326.30" y2="295.50" stroke="#8fdde3" stroke-width="1"/>
<circle cx="317" cy="295.50" r="3.3" fill="url(#gec)"/>
<text x="329.4" y="273.8" font-size="8.45" font-weight="bold" fill="#111">LSMO/CeO<tspan dy="2.11" font-size="5.58">2-x</tspan><tspan dy="-2.11" font-size="8.45">&#8203;</tspan> capping</text>
<text x="329.4" y="286.4" font-size="8.45" font-weight="bold" fill="#111">CeO<tspan dy="2.11" font-size="5.58">2-x</tspan><tspan dy="-2.11" font-size="8.45">&#8203;</tspan> capping</text>
<text x="329.40" y="299.10" font-size="8.45" font-weight="bold" font-style="normal" text-anchor="start" fill="#111">Bare HZO</text>
<text x="226.6" y="277.5" font-size="11.3" text-anchor="middle" fill="#1a1a1a" transform="rotate(-90 226.6 277.5)">2<tspan font-style="italic">P</tspan><tspan dy="2.83" font-size="7.46">r</tspan><tspan dy="-2.83" font-size="11.3">&#8203;</tspan> (μC cm<tspan dy="-5.09" font-size="7.68">-2</tspan><tspan dy="5.09" font-size="11.3">&#8203;</tspan>)</text>
<text x="329.60" y="372.70" font-size="11" font-weight="normal" font-style="normal" text-anchor="middle" fill="#1a1a1a">Temperature (K)</text>
<text x="434.50" y="210.00" font-size="14" font-weight="bold" font-style="normal" text-anchor="start" fill="#000">f</text>
<polygon points="536.04,201.77 606.07,220.53 624.83,290.56 573.56,341.83 503.53,323.07 484.77,253.04" fill="#e3e3e3" stroke="#bdbdbd" stroke-width="0.8"/>
<polygon points="536.04,201.77 596.32,230.28 610.82,286.81 572.72,338.68 503.53,323.07 486.52,253.50" fill="#f4a6a0" stroke="#f07070" stroke-width="0.9"/>
<polygon points="539.04,212.98 588.64,237.96 603.82,284.94 572.25,336.93 503.53,323.07 486.52,253.50" fill="#9f98bc" fill-opacity="0.95" stroke="#5a7ac8" stroke-width="0.9"/>
<polygon points="546.36,240.29 568.64,257.96 589.81,281.18 567.94,320.82 529.68,296.92 542.89,268.61" fill="#76c3dc" fill-opacity="0.85" stroke="#5cc8e0" stroke-width="0.9"/>
<polygon points="551.05,257.79 565.05,261.55 568.81,275.55 558.55,285.81 544.55,282.05 540.79,268.05" fill="none" stroke="#505060" stroke-opacity="0.2" stroke-width="0.6"/>
<polygon points="548.04,246.59 573.26,253.34 580.01,278.56 561.56,297.01 536.34,290.26 529.59,265.04" fill="none" stroke="#505060" stroke-opacity="0.2" stroke-width="0.6"/>
<polygon points="545.04,235.38 581.46,245.14 591.22,281.56 564.56,308.22 528.14,298.46 518.38,262.04" fill="none" stroke="#505060" stroke-opacity="0.2" stroke-width="0.6"/>
<polygon points="542.04,224.18 589.66,236.94 602.42,284.56 567.56,319.42 519.94,306.66 507.18,259.04" fill="none" stroke="#505060" stroke-opacity="0.2" stroke-width="0.6"/>
<polygon points="539.04,212.98 597.86,228.74 613.62,287.56 570.56,330.62 511.74,314.86 495.98,256.04" fill="none" stroke="#505060" stroke-opacity="0.2" stroke-width="0.6"/>
<line x1="536.04" y1="201.77" x2="573.56" y2="341.83" stroke="#2a2a2a" stroke-width="0.8"/>
<line x1="606.07" y1="220.53" x2="503.53" y2="323.07" stroke="#2a2a2a" stroke-width="0.8"/>
<line x1="624.83" y1="290.56" x2="484.77" y2="253.04" stroke="#2a2a2a" stroke-width="0.8"/>
<circle cx="536.04" cy="201.77" r="1.5" fill="#f05050"/>
<circle cx="596.32" cy="230.28" r="1.5" fill="#f05050"/>
<circle cx="610.82" cy="286.81" r="1.5" fill="#f05050"/>
<circle cx="572.72" cy="338.68" r="1.5" fill="#f05050"/>
<circle cx="503.53" cy="323.07" r="1.5" fill="#f05050"/>
<circle cx="486.52" cy="253.50" r="1.5" fill="#f05050"/>
<circle cx="539.04" cy="212.98" r="1.5" fill="#3a62c0"/>
<circle cx="588.64" cy="237.96" r="1.5" fill="#3a62c0"/>
<circle cx="603.82" cy="284.94" r="1.5" fill="#3a62c0"/>
<circle cx="572.25" cy="336.93" r="1.5" fill="#3a62c0"/>
<circle cx="503.53" cy="323.07" r="1.5" fill="#3a62c0"/>
<circle cx="486.52" cy="253.50" r="1.5" fill="#3a62c0"/>
<circle cx="546.36" cy="240.29" r="1.5" fill="#8fe6f0"/>
<circle cx="568.64" cy="257.96" r="1.5" fill="#8fe6f0"/>
<circle cx="589.81" cy="281.18" r="1.5" fill="#8fe6f0"/>
<circle cx="567.94" cy="320.82" r="1.5" fill="#8fe6f0"/>
<circle cx="529.68" cy="296.92" r="1.5" fill="#8fe6f0"/>
<circle cx="542.89" cy="268.61" r="1.5" fill="#8fe6f0"/>
<text x="484.00" y="261.00" font-size="8.4" text-anchor="middle" dominant-baseline="central" fill="#1a1a1a" transform="rotate(-75 484.00 261.00)">100</text>
<text x="496.90" y="264.90" font-size="8.4" text-anchor="middle" dominant-baseline="central" fill="#1a1a1a" transform="rotate(-75 496.90 264.90)">80</text>
<text x="507.90" y="267.80" font-size="8.4" text-anchor="middle" dominant-baseline="central" fill="#1a1a1a" transform="rotate(-75 507.90 267.80)">60</text>
<text x="519.20" y="270.50" font-size="8.4" text-anchor="middle" dominant-baseline="central" fill="#1a1a1a" transform="rotate(-75 519.20 270.50)">40</text>
<text x="530.20" y="273.50" font-size="8.4" text-anchor="middle" dominant-baseline="central" fill="#1a1a1a" transform="rotate(-75 530.20 273.50)">20</text>
<text x="542.10" y="274.40" font-size="8.4" text-anchor="middle" dominant-baseline="central" fill="#1a1a1a" transform="rotate(-75 542.10 274.40)">0</text>
<text x="526.30" y="206.00" font-size="8.4" text-anchor="middle" dominant-baseline="central" fill="#1a1a1a" transform="rotate(-10 526.30 206.00)">10<tspan dy="-2.8" font-size="5.6">11</tspan></text>
<text x="526.30" y="216.80" font-size="8.4" text-anchor="middle" dominant-baseline="central" fill="#1a1a1a" transform="rotate(-10 526.30 216.80)">2×10<tspan dy="-2.8" font-size="5.6">9</tspan></text>
<text x="537.50" y="240.40" font-size="8.4" text-anchor="middle" dominant-baseline="central" fill="#1a1a1a" transform="rotate(-10 537.50 240.40)">10<tspan dy="-2.8" font-size="5.6">8</tspan></text>
<text x="600.70" y="217.80" font-size="8.4" text-anchor="middle" dominant-baseline="central" fill="#1a1a1a" transform="rotate(45 600.70 217.80)">0.0</text>
<text x="588.30" y="227.30" font-size="8.4" text-anchor="middle" dominant-baseline="central" fill="#1a1a1a" transform="rotate(45 588.30 227.30)">-0.4</text>
<text x="578.70" y="236.90" font-size="8.4" text-anchor="middle" dominant-baseline="central" fill="#1a1a1a" transform="rotate(45 578.70 236.90)">-0.8</text>
<text x="568.30" y="247.30" font-size="8.4" text-anchor="middle" dominant-baseline="central" fill="#1a1a1a" transform="rotate(45 568.30 247.30)">-1.2</text>
<text x="558.00" y="257.60" font-size="8.4" text-anchor="middle" dominant-baseline="central" fill="#1a1a1a" transform="rotate(45 558.00 257.60)">-1.6</text>
<text x="625.40" y="286.00" font-size="8.4" text-anchor="middle" dominant-baseline="central" fill="#1a1a1a" transform="rotate(75 625.40 286.00)">1</text>
<text x="614.10" y="282.50" font-size="8.4" text-anchor="middle" dominant-baseline="central" fill="#1a1a1a" transform="rotate(75 614.10 282.50)">2</text>
<text x="602.90" y="279.90" font-size="8.4" text-anchor="middle" dominant-baseline="central" fill="#1a1a1a" transform="rotate(75 602.90 279.90)">3</text>
<text x="591.70" y="277.40" font-size="8.4" text-anchor="middle" dominant-baseline="central" fill="#1a1a1a" transform="rotate(75 591.70 277.40)">4</text>
<text x="580.90" y="273.80" font-size="8.4" text-anchor="middle" dominant-baseline="central" fill="#1a1a1a" transform="rotate(75 580.90 273.80)">5</text>
<text x="569.70" y="271.70" font-size="8.4" text-anchor="middle" dominant-baseline="central" fill="#1a1a1a" transform="rotate(75 569.70 271.70)">6</text>
<text x="563.70" y="279.20" font-size="8.4" text-anchor="middle" dominant-baseline="central" fill="#1a1a1a" transform="rotate(-15 563.70 279.20)">10<tspan dy="-3.78" font-size="5.71">-3</tspan><tspan dy="3.78" font-size="8.4">&#8203;</tspan></text>
<text x="567.20" y="288.30" font-size="8.4" text-anchor="middle" dominant-baseline="central" fill="#1a1a1a" transform="rotate(-15 567.20 288.30)">10<tspan dy="-3.78" font-size="5.71">-4</tspan><tspan dy="3.78" font-size="8.4">&#8203;</tspan></text>
<text x="569.40" y="296.20" font-size="8.4" text-anchor="middle" dominant-baseline="central" fill="#1a1a1a" transform="rotate(-15 569.40 296.20)">10<tspan dy="-3.78" font-size="5.71">-5</tspan><tspan dy="3.78" font-size="8.4">&#8203;</tspan></text>
<text x="571.10" y="304.00" font-size="8.4" text-anchor="middle" dominant-baseline="central" fill="#1a1a1a" transform="rotate(-15 571.10 304.00)">10<tspan dy="-3.78" font-size="5.71">-6</tspan><tspan dy="3.78" font-size="8.4">&#8203;</tspan></text>
<text x="573.90" y="314.30" font-size="8.4" text-anchor="middle" dominant-baseline="central" fill="#1a1a1a" transform="rotate(-15 573.90 314.30)">10<tspan dy="-3.78" font-size="5.71">-7</tspan><tspan dy="3.78" font-size="8.4">&#8203;</tspan></text>
<text x="576.20" y="322.20" font-size="8.4" text-anchor="middle" dominant-baseline="central" fill="#1a1a1a" transform="rotate(-15 576.20 322.20)">10<tspan dy="-3.78" font-size="5.71">-8</tspan><tspan dy="3.78" font-size="8.4">&#8203;</tspan></text>
<text x="577.90" y="332.40" font-size="8.4" text-anchor="middle" dominant-baseline="central" fill="#1a1a1a" transform="rotate(-15 577.90 332.40)">10<tspan dy="-3.78" font-size="5.71">-9</tspan><tspan dy="3.78" font-size="8.4">&#8203;</tspan></text>
<text x="583.00" y="339.20" font-size="8.4" text-anchor="middle" dominant-baseline="central" fill="#1a1a1a" transform="rotate(-15 583.00 339.20)">10<tspan dy="-3.78" font-size="5.71">-10</tspan><tspan dy="3.78" font-size="8.4">&#8203;</tspan></text>
<text x="551.30" y="283.30" font-size="8.4" text-anchor="middle" dominant-baseline="central" fill="#1a1a1a" transform="rotate(25 551.30 283.30)">3</text>
<text x="543.80" y="289.40" font-size="8.4" text-anchor="middle" dominant-baseline="central" fill="#1a1a1a" transform="rotate(25 543.80 289.40)">6</text>
<text x="536.70" y="296.80" font-size="8.4" text-anchor="middle" dominant-baseline="central" fill="#1a1a1a" transform="rotate(25 536.70 296.80)">9</text>
<text x="530.90" y="306.40" font-size="8.4" text-anchor="middle" dominant-baseline="central" fill="#1a1a1a" transform="rotate(25 530.90 306.40)">12</text>
<text x="525.00" y="313.40" font-size="8.4" text-anchor="middle" dominant-baseline="central" fill="#1a1a1a" transform="rotate(25 525.00 313.40)">15</text>
<text x="517.00" y="321.00" font-size="8.4" text-anchor="middle" dominant-baseline="central" fill="#1a1a1a" transform="rotate(25 517.00 321.00)">18</text>
<text x="508.90" y="327.60" font-size="8.4" text-anchor="middle" dominant-baseline="central" fill="#1a1a1a" transform="rotate(25 508.90 327.60)">21</text>
<text x="540.20" y="199.40" font-size="9.4" font-weight="normal" font-style="normal" text-anchor="middle" fill="#1a1a1a">Fatigue</text>
<text x="580.2" y="211.2" font-size="9.4" fill="#1a1a1a">Imprint(MV cm<tspan dy="-4.23" font-size="6.39">-1</tspan><tspan dy="4.23" font-size="9.4">&#8203;</tspan>)</text>
<text x="444.40" y="241.60" font-size="9.4" font-weight="normal" font-style="normal" text-anchor="start" fill="#1a1a1a">Retention(%)</text>
<text x="614.7" y="311.8" font-size="9.4" fill="#1a1a1a">Ec(MV cm<tspan dy="-4.23" font-size="6.39">-1</tspan><tspan dy="4.23" font-size="9.4">&#8203;</tspan>)</text>
<text x="449.6" y="340.2" font-size="9.4" fill="#1a1a1a">Polarization(μC cm<tspan dy="-4.23" font-size="6.39">-2</tspan><tspan dy="4.23" font-size="9.4">&#8203;</tspan>)</text>
<text x="540" y="354.1" font-size="9.4" fill="#1a1a1a">Leakage current(A cm<tspan dy="-4.23" font-size="6.39">-2</tspan><tspan dy="4.23" font-size="9.4">&#8203;</tspan>)</text>
<rect x="442.1" y="366.2" width="18.4" height="8.4" fill="#f5b5b5"/>
<text x="462.9" y="373.3" font-size="8.2" font-weight="bold" fill="#111">LSMO/CeO<tspan dy="2.05" font-size="5.41">2-x</tspan><tspan dy="-2.05" font-size="8.2">&#8203;</tspan> capping</text>
<rect x="547.5" y="366.0" width="17.9" height="8.6" fill="#9fb2d8"/>
<text x="568.5" y="373.3" font-size="8.2" font-weight="bold" fill="#111">CeO<tspan dy="2.05" font-size="5.41">2-x</tspan><tspan dy="-2.05" font-size="8.2">&#8203;</tspan> capping</text>
<rect x="627.8" y="366.0" width="17.3" height="8.6" fill="#aadde8"/>
<text x="647.80" y="373.30" font-size="8.2" font-weight="bold" font-style="normal" text-anchor="start" fill="#111">Bare HZO</text>
</svg></body></html>
